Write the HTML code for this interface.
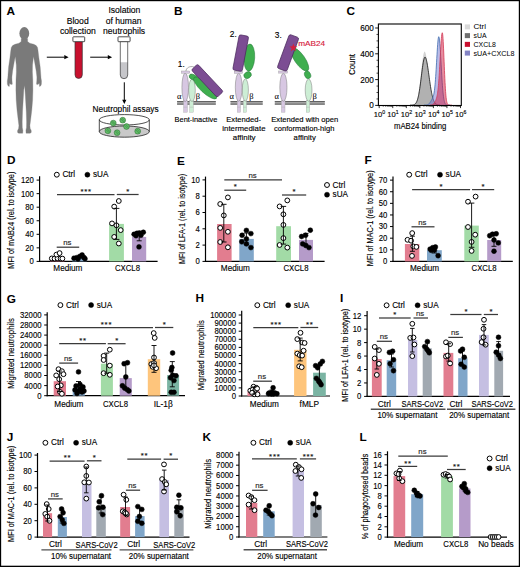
<!DOCTYPE html>
<html><head><meta charset="utf-8"><style>
html,body{margin:0;padding:0;background:#fff;}
svg{display:block;font-family:"Liberation Sans", sans-serif;}

</style></head><body>
<svg width="520" height="567" viewBox="0 0 520 567" font-family="Liberation Sans, sans-serif">
<rect width="520" height="567" fill="#fff"/>
<text x="6.6" y="15" font-size="11.8" font-weight="bold">A</text>
<path d="M21.2,38.5 L21.2,41.6 L19,43.2 L15,44.3 L12.6,45.6 L11.3,47.4 L10.8,50.5 L9.9,58 L8.6,67 L8,75 L7.8,78 L7.3,81 L7.4,84.2 L8.2,86 L9.3,86.4 L9.5,83.2 L11,84.6 L12.3,84.2 L12,80.5 L11.9,77 L12.6,71 L14.2,62 L15.3,56.5 L16.3,65 L16.4,72 L16,80 L15.9,90 L16.2,100 L17,110 L18.2,120 L18.9,125.5 L18.6,128.5 L17.6,130.5 L17.5,132.2 L18.5,133.2 L22.7,133.2 L22.9,130.5 L22.3,127.5 L22.2,122 L22.5,112 L23.2,100 L23.8,90 L24.4,85.5 L25,90 L25.6,100 L26.3,112 L26.6,122 L26.5,127.5 L25.9,130.5 L26.1,133.2 L30.3,133.2 L31.3,132.2 L31.2,130.5 L30.2,128.5 L29.9,125.5 L30.6,120 L31.8,110 L32.6,100 L32.9,90 L32.8,80 L32.4,72 L32.5,65 L33.5,56.5 L34.6,62 L36.2,71 L36.9,77 L36.8,80.5 L36.5,84.2 L37.8,84.6 L39.3,83.2 L39.5,86.4 L40.6,86 L41.4,84.2 L41.5,81 L41,78 L40.8,75 L40.2,67 L38.9,58 L38,50.5 L37.5,47.4 L36.2,45.6 L33.8,44.3 L29.8,43.2 L27.6,41.6 L27.6,38.5 Z" fill="#7a7a7a" stroke="#7a7a7a" stroke-width="0.3" stroke-linejoin="round"/>
<ellipse cx="24.3" cy="33.4" rx="4.9" ry="6.3" fill="#7a7a7a"/>
<line x1="46.8" y1="57.2" x2="64.8" y2="57.2" stroke="#000" stroke-width="1"/>
<path d="M68.6,57.2 L64.3,55.1 L64.3,59.3 Z" fill="#000"/>
<line x1="90.2" y1="57.2" x2="108.3" y2="57.2" stroke="#000" stroke-width="1"/>
<path d="M112.1,57.2 L107.8,55.1 L107.8,59.3 Z" fill="#000"/>
<line x1="124.3" y1="82.3" x2="124.3" y2="100.2" stroke="#000" stroke-width="1"/>
<path d="M124.3,104 L122.2,99.7 L126.4,99.7 Z" fill="#000"/>
<path d="M75,41.5 L75,74.75 Q75,78.4 78.65,78.4 Q82.3,78.4 82.3,74.75 L82.3,41.5 Z" fill="#c8102e" stroke="#333" stroke-width="0.7"/>
<rect x="72.9" y="36.8" width="11.8" height="4.9" rx="0.6" fill="#fff" stroke="#222" stroke-width="0.8"/>
<path d="M120.3,41.5 L120.3,75 Q120.3,78.7 124,78.7 Q127.7,78.7 127.7,75 L127.7,41.5 Z" fill="#fff" stroke="none"/>
<clipPath id="tc"><rect x="119.3" y="62.2" width="9.400000000000006" height="17.5"/></clipPath>
<path d="M120.3,41.5 L120.3,75 Q120.3,78.7 124,78.7 Q127.7,78.7 127.7,75 L127.7,41.5 Z" fill="#c6c6ca" clip-path="url(#tc)"/>
<path d="M120.3,41.5 L120.3,75 Q120.3,78.7 124,78.7 Q127.7,78.7 127.7,75 L127.7,41.5 Z" fill="none" stroke="#333" stroke-width="0.7"/>
<rect x="118.0" y="36.8" width="12.1" height="4.9" rx="0.6" fill="#fff" stroke="#222" stroke-width="0.8"/>
<text x="77.7" y="23.6" font-size="8.6" stroke="#000" stroke-width="0.13" text-anchor="middle">Blood</text>
<text x="77.8" y="34" font-size="8.6" stroke="#000" stroke-width="0.13" text-anchor="middle">collection</text>
<text x="124.4" y="13.2" font-size="8.6" stroke="#000" stroke-width="0.13" text-anchor="middle">Isolation</text>
<text x="123.6" y="23.6" font-size="8.6" stroke="#000" stroke-width="0.13" text-anchor="middle">of human</text>
<text x="124.1" y="34" font-size="8.6" stroke="#000" stroke-width="0.13" text-anchor="middle">neutrophils</text>
<text x="125.6" y="111.6" font-size="8.4" stroke="#000" stroke-width="0.13" text-anchor="middle" textLength="66" lengthAdjust="spacingAndGlyphs">Neutrophil assays</text>
<ellipse cx="124.3" cy="131.6" rx="25" ry="5.6" fill="#c9c9c9" stroke="#222" stroke-width="0.8"/>
<line x1="99.3" y1="119.8" x2="99.3" y2="131.6" stroke="#222" stroke-width="0.8"/>
<line x1="149.3" y1="119.8" x2="149.3" y2="131.6" stroke="#222" stroke-width="0.8"/>
<ellipse cx="124.3" cy="119.8" rx="25" ry="5.2" fill="none" stroke="#222" stroke-width="0.8"/>
<circle cx="113.3" cy="123.1" r="2.9" fill="#62bd68" stroke="#2f6e36" stroke-width="0.55"/>
<path d="M111.39999999999999,121.89999999999999 L114.5,125.0 M112.3,120.89999999999999 L115.39999999999999,124.0" stroke="#2e7a38" stroke-width="0.55"/>
<circle cx="122.7" cy="120.2" r="2.9" fill="#62bd68" stroke="#2f6e36" stroke-width="0.55"/>
<path d="M120.8,119.0 L123.9,122.10000000000001 M121.7,118.0 L124.8,121.10000000000001" stroke="#2e7a38" stroke-width="0.55"/>
<circle cx="126.5" cy="126.5" r="2.9" fill="#62bd68" stroke="#2f6e36" stroke-width="0.55"/>
<path d="M124.6,125.3 L127.7,128.4 M125.5,124.3 L128.6,127.4" stroke="#2e7a38" stroke-width="0.55"/>
<circle cx="107.9" cy="130.8" r="2.9" fill="#62bd68" stroke="#2f6e36" stroke-width="0.55"/>
<path d="M106.0,129.60000000000002 L109.10000000000001,132.70000000000002 M106.9,128.60000000000002 L110.0,131.70000000000002" stroke="#2e7a38" stroke-width="0.55"/>
<circle cx="117.1" cy="132.7" r="2.9" fill="#62bd68" stroke="#2f6e36" stroke-width="0.55"/>
<path d="M115.19999999999999,131.5 L118.3,134.6 M116.1,130.5 L119.19999999999999,133.6" stroke="#2e7a38" stroke-width="0.55"/>
<circle cx="137.7" cy="131.2" r="2.9" fill="#62bd68" stroke="#2f6e36" stroke-width="0.55"/>
<path d="M135.79999999999998,130.0 L138.89999999999998,133.1 M136.7,129.0 L139.79999999999998,132.1" stroke="#2e7a38" stroke-width="0.55"/>
<text x="174.1" y="15.2" font-size="11.8" font-weight="bold">B</text>
<rect x="177.1" y="101.1" width="38.7" height="3.5" fill="#a8a8a8"/>
<line x1="177.1" y1="101.55" x2="215.8" y2="101.55" stroke="#555" stroke-width="0.9"/>
<line x1="177.1" y1="104.15" x2="215.8" y2="104.15" stroke="#555" stroke-width="0.9"/>
<rect x="183.6" y="100.5" width="3.8" height="11.7" fill="#d7c7e2" stroke="#aaa" stroke-width="0.4"/>
<rect x="189.7" y="100.5" width="3.6" height="11.7" fill="#cdeed5" stroke="#aaa" stroke-width="0.4"/>
<line x1="183.6" y1="107.2" x2="187.4" y2="107.2" stroke="#aaa" stroke-width="0.4"/>
<line x1="189.7" y1="107.2" x2="193.3" y2="107.2" stroke="#aaa" stroke-width="0.4"/>
<ellipse cx="192" cy="90.3" rx="3.3" ry="11.2" fill="#cdeed5" stroke="#7a7a7a" stroke-width="0.5"/>
<ellipse cx="185.2" cy="87.4" rx="3.3" ry="14.3" fill="#d7c7e2" stroke="#7a7a7a" stroke-width="0.5"/>
<rect x="181.4" y="71.0" width="8.4" height="2.2" fill="#d7c7e2" stroke="#999" stroke-width="0.4"/>
<path d="M185.9,71.0 C186.4,67.6 189.8,65.9 193.8,66.8" fill="none" stroke="#666" stroke-width="0.55"/>
<ellipse cx="193.2" cy="77.2" rx="4.3" ry="2.6" fill="#3fae4f" stroke="#25793a" stroke-width="0.5" transform="rotate(25 193.2 77.2)"/>
<ellipse cx="205.2" cy="88" rx="15.3" ry="4.7" fill="#3fae4f" stroke="#25793a" stroke-width="0.5" transform="rotate(43 205.2 88)"/>
<rect x="188.5" y="76.4" width="37.6" height="8.6" rx="1.8" fill="#7c4d93" stroke="#4a2a5c" stroke-width="0.7" transform="rotate(46.8 207.3 80.7)"/>
<text x="177.8" y="67.3" font-size="8.3" stroke="#000" stroke-width="0.13">1.</text>
<text x="177" y="98.6" font-size="8.5" stroke="#000" stroke-width="0.05" style="font-family:Liberation Serif, serif">α</text>
<text x="195.8" y="98.6" font-size="8.5" stroke="#000" stroke-width="0.05" style="font-family:Liberation Serif, serif">β</text>
<rect x="230.5" y="101.1" width="32.2" height="3.5" fill="#a8a8a8"/>
<line x1="230.5" y1="101.55" x2="262.7" y2="101.55" stroke="#555" stroke-width="0.9"/>
<line x1="230.5" y1="104.15" x2="262.7" y2="104.15" stroke="#555" stroke-width="0.9"/>
<rect x="237.3" y="100.5" width="3.2" height="11.7" fill="#d7c7e2" stroke="#aaa" stroke-width="0.4"/>
<rect x="243.3" y="100.5" width="3.1" height="11.7" fill="#cdeed5" stroke="#aaa" stroke-width="0.4"/>
<line x1="237.3" y1="107.2" x2="240.5" y2="107.2" stroke="#aaa" stroke-width="0.4"/>
<line x1="243.3" y1="107.2" x2="246.4" y2="107.2" stroke="#aaa" stroke-width="0.4"/>
<ellipse cx="245.3" cy="90" rx="3.1" ry="11.1" fill="#cdeed5" stroke="#7a7a7a" stroke-width="0.5"/>
<ellipse cx="238.7" cy="87.3" rx="3.4" ry="14" fill="#d7c7e2" stroke="#7a7a7a" stroke-width="0.5"/>
<rect x="234.2" y="71.2" width="8.4" height="2.2" fill="#d7c7e2" stroke="#999" stroke-width="0.4"/>
<ellipse cx="247.6" cy="75.1" rx="3.9" ry="3.2" fill="#3fae4f" stroke="#25793a" stroke-width="0.5" transform="rotate(-35 247.6 75.1)"/>
<ellipse cx="249.3" cy="57.6" rx="5.4" ry="13.6" fill="#3fae4f" stroke="#25793a" stroke-width="0.5" transform="rotate(3 249.3 57.6)"/>
<rect x="235.9" y="35.2" width="9.6" height="35.8" rx="1.8" fill="#7c4d93" stroke="#4a2a5c" stroke-width="0.7" transform="rotate(10.7 240.7 53.1)"/>
<text x="229.8" y="37.4" font-size="8.3" stroke="#000" stroke-width="0.13">2.</text>
<text x="229.6" y="98.9" font-size="8.5" stroke="#000" stroke-width="0.05" style="font-family:Liberation Serif, serif">α</text>
<text x="249.2" y="98.9" font-size="8.5" stroke="#000" stroke-width="0.05" style="font-family:Liberation Serif, serif">β</text>
<rect x="274.8" y="101.1" width="50" height="3.5" fill="#a8a8a8"/>
<line x1="274.8" y1="101.55" x2="324.8" y2="101.55" stroke="#555" stroke-width="0.9"/>
<line x1="274.8" y1="104.15" x2="324.8" y2="104.15" stroke="#555" stroke-width="0.9"/>
<rect x="281.4" y="100.5" width="3.6" height="11.7" fill="#d7c7e2" stroke="#aaa" stroke-width="0.4"/>
<rect x="306.2" y="100.5" width="3.5" height="11.7" fill="#cdeed5" stroke="#aaa" stroke-width="0.4"/>
<line x1="281.4" y1="107.2" x2="285" y2="107.2" stroke="#aaa" stroke-width="0.4"/>
<line x1="306.2" y1="107.2" x2="309.7" y2="107.2" stroke="#aaa" stroke-width="0.4"/>
<ellipse cx="308.6" cy="90.1" rx="3.4" ry="11.1" fill="#cdeed5" stroke="#7a7a7a" stroke-width="0.5"/>
<ellipse cx="283.4" cy="87.3" rx="3.6" ry="14" fill="#d7c7e2" stroke="#7a7a7a" stroke-width="0.5"/>
<rect x="278.7" y="71.0" width="8.8" height="2.1" fill="#d7c7e2" stroke="#999" stroke-width="0.4"/>
<ellipse cx="307.6" cy="74.8" rx="3" ry="3.9" fill="#3fae4f" stroke="#25793a" stroke-width="0.5" transform="rotate(-22 307.6 74.8)"/>
<ellipse cx="299.8" cy="59.4" rx="5.1" ry="13.8" fill="#3fae4f" stroke="#25793a" stroke-width="0.5" transform="rotate(-35 299.8 59.4)"/>
<rect x="282.95" y="34.95" width="10.2" height="35.9" rx="1.8" fill="#7c4d93" stroke="#4a2a5c" stroke-width="0.7" transform="rotate(20.2 288.05 52.9)"/>
<path d="M293.40,43.60 L294.46,46.34 L297.39,46.50 L295.11,48.36 L295.87,51.20 L293.40,49.60 L290.93,51.20 L291.69,48.36 L289.41,46.50 L292.34,46.34 Z" fill="#d5203c"/>
<text x="298.2" y="45.9" font-size="7.6" stroke="#d5203c" stroke-width="0.13" fill="#d5203c" textLength="27" lengthAdjust="spacingAndGlyphs">mAB24</text>
<text x="274.8" y="37.7" font-size="8.3" stroke="#000" stroke-width="0.13">3.</text>
<text x="274.6" y="98.9" font-size="8.5" stroke="#000" stroke-width="0.05" style="font-family:Liberation Serif, serif">α</text>
<text x="312.6" y="98.9" font-size="8.5" stroke="#000" stroke-width="0.05" style="font-family:Liberation Serif, serif">β</text>
<text x="196" y="122.3" font-size="7.9" stroke="#000" stroke-width="0.13" text-anchor="middle" textLength="42.8" lengthAdjust="spacingAndGlyphs">Bent-inactive</text>
<text x="243.6" y="122.3" font-size="7.9" stroke="#000" stroke-width="0.13" text-anchor="middle" textLength="34.7" lengthAdjust="spacingAndGlyphs">Extended-</text>
<text x="243.9" y="131" font-size="7.9" stroke="#000" stroke-width="0.13" text-anchor="middle" textLength="43.2" lengthAdjust="spacingAndGlyphs">intermediate</text>
<text x="244.2" y="139.6" font-size="7.9" stroke="#000" stroke-width="0.13" text-anchor="middle" textLength="22.8" lengthAdjust="spacingAndGlyphs">affinity</text>
<text x="304.8" y="122.3" font-size="7.9" stroke="#000" stroke-width="0.13" text-anchor="middle" textLength="67.1" lengthAdjust="spacingAndGlyphs">Extended with open</text>
<text x="304.2" y="131" font-size="7.9" stroke="#000" stroke-width="0.13" text-anchor="middle" textLength="60.4" lengthAdjust="spacingAndGlyphs">conformation-high</text>
<text x="304.7" y="139.6" font-size="7.9" stroke="#000" stroke-width="0.13" text-anchor="middle" textLength="22.2" lengthAdjust="spacingAndGlyphs">affinity</text>
<text x="346.4" y="15" font-size="11.8" font-weight="bold">C</text>
<path d="M410.00,105.10 L410.00,105.09 L410.25,105.09 L410.50,105.08 L410.75,105.08 L411.00,105.07 L411.25,105.06 L411.50,105.05 L411.75,105.04 L412.00,105.02 L412.25,104.99 L412.50,104.96 L412.75,104.93 L413.00,104.88 L413.25,104.82 L413.50,104.75 L413.75,104.66 L414.00,104.55 L414.25,104.42 L414.50,104.27 L414.75,104.08 L415.00,103.86 L415.25,103.59 L415.50,103.28 L415.75,102.91 L416.00,102.49 L416.25,101.99 L416.50,101.42 L416.75,100.77 L417.00,100.04 L417.25,99.20 L417.50,98.26 L417.75,97.22 L418.00,96.06 L418.25,94.78 L418.50,93.38 L418.75,91.87 L419.00,90.23 L419.25,88.47 L419.50,86.59 L419.75,84.62 L420.00,82.54 L420.25,80.39 L420.50,78.16 L420.75,75.89 L421.00,73.58 L421.25,71.26 L421.50,68.96 L421.75,66.70 L422.00,64.50 L422.25,62.40 L422.50,60.41 L422.75,58.58 L423.00,56.91 L423.25,55.44 L423.50,54.18 L423.75,53.15 L424.00,52.38 L424.25,51.87 L424.50,51.62 L424.75,51.64 L425.00,51.90 L425.25,52.38 L425.50,53.08 L425.75,53.99 L426.00,55.11 L426.25,56.41 L426.50,57.89 L426.75,59.51 L427.00,61.27 L427.25,63.15 L427.50,65.12 L427.75,67.16 L428.00,69.25 L428.25,71.37 L428.50,73.50 L428.75,75.63 L429.00,77.73 L429.25,79.80 L429.50,81.80 L429.75,83.74 L430.00,85.61 L430.25,87.39 L430.50,89.07 L430.75,90.66 L431.00,92.15 L431.25,93.53 L431.50,94.81 L431.75,95.99 L432.00,97.07 L432.25,98.05 L432.50,98.94 L432.75,99.74 L433.00,100.45 L433.25,101.09 L433.50,101.65 L433.75,102.15 L434.00,102.59 L434.25,102.97 L434.50,103.30 L434.75,103.59 L435.00,103.84 L435.25,104.05 L435.50,104.23 L435.75,104.38 L436.00,104.51 L436.25,104.61 L436.50,104.70 L436.75,104.78 L437.00,104.84 L437.25,104.89 L437.50,104.93 L437.75,104.97 L438.00,104.99 L438.25,105.02 L438.50,105.03 L438.75,105.05 L439.00,105.06 L439.25,105.07 L439.50,105.08 L439.75,105.08 L440.00,105.09 L440.00,105.10 Z" fill="#d2d2d2" fill-opacity="1.0" stroke="none"/>
<path d="M410.00,105.10 L410.00,105.09 L410.25,105.09 L410.50,105.09 L410.75,105.08 L411.00,105.08 L411.25,105.07 L411.50,105.06 L411.75,105.05 L412.00,105.03 L412.25,105.01 L412.50,104.98 L412.75,104.95 L413.00,104.91 L413.25,104.87 L413.50,104.81 L413.75,104.74 L414.00,104.65 L414.25,104.54 L414.50,104.42 L414.75,104.27 L415.00,104.09 L415.25,103.87 L415.50,103.62 L415.75,103.33 L416.00,102.99 L416.25,102.60 L416.50,102.14 L416.75,101.63 L417.00,101.04 L417.25,100.37 L417.50,99.62 L417.75,98.78 L418.00,97.85 L418.25,96.82 L418.50,95.70 L418.75,94.46 L419.00,93.13 L419.25,91.69 L419.50,90.16 L419.75,88.53 L420.00,86.80 L420.25,85.00 L420.50,83.12 L420.75,81.19 L421.00,79.21 L421.25,77.20 L421.50,75.18 L421.75,73.17 L422.00,71.18 L422.25,69.25 L422.50,67.38 L422.75,65.62 L423.00,63.96 L423.25,62.45 L423.50,61.09 L423.75,59.91 L424.00,58.92 L424.25,58.13 L424.50,57.56 L424.75,57.22 L425.00,57.10 L425.25,57.19 L425.50,57.47 L425.75,57.94 L426.00,58.58 L426.25,59.39 L426.50,60.36 L426.75,61.48 L427.00,62.74 L427.25,64.12 L427.50,65.62 L427.75,67.20 L428.00,68.87 L428.25,70.59 L428.50,72.37 L428.75,74.17 L429.00,75.99 L429.25,77.80 L429.50,79.61 L429.75,81.38 L430.00,83.12 L430.25,84.82 L430.50,86.45 L430.75,88.02 L431.00,89.52 L431.25,90.94 L431.50,92.28 L431.75,93.54 L432.00,94.72 L432.25,95.81 L432.50,96.82 L432.75,97.75 L433.00,98.60 L433.25,99.38 L433.50,100.08 L433.75,100.71 L434.00,101.28 L434.25,101.79 L434.50,102.24 L434.75,102.64 L435.00,102.99 L435.25,103.30 L435.50,103.57 L435.75,103.80 L436.00,104.01 L436.25,104.18 L436.50,104.33 L436.75,104.46 L437.00,104.57 L437.25,104.66 L437.50,104.74 L437.75,104.80 L438.00,104.86 L438.25,104.90 L438.50,104.94 L438.75,104.97 L439.00,105.00 L439.25,105.02 L439.50,105.03 L439.75,105.05 L440.00,105.06 L440.00,105.10 Z" fill="#8a8a8a" fill-opacity="0.45" stroke="none"/>
<path d="M410.00,105.09 L410.25,105.09 L410.50,105.09 L410.75,105.08 L411.00,105.08 L411.25,105.07 L411.50,105.06 L411.75,105.05 L412.00,105.03 L412.25,105.01 L412.50,104.98 L412.75,104.95 L413.00,104.91 L413.25,104.87 L413.50,104.81 L413.75,104.74 L414.00,104.65 L414.25,104.54 L414.50,104.42 L414.75,104.27 L415.00,104.09 L415.25,103.87 L415.50,103.62 L415.75,103.33 L416.00,102.99 L416.25,102.60 L416.50,102.14 L416.75,101.63 L417.00,101.04 L417.25,100.37 L417.50,99.62 L417.75,98.78 L418.00,97.85 L418.25,96.82 L418.50,95.70 L418.75,94.46 L419.00,93.13 L419.25,91.69 L419.50,90.16 L419.75,88.53 L420.00,86.80 L420.25,85.00 L420.50,83.12 L420.75,81.19 L421.00,79.21 L421.25,77.20 L421.50,75.18 L421.75,73.17 L422.00,71.18 L422.25,69.25 L422.50,67.38 L422.75,65.62 L423.00,63.96 L423.25,62.45 L423.50,61.09 L423.75,59.91 L424.00,58.92 L424.25,58.13 L424.50,57.56 L424.75,57.22 L425.00,57.10 L425.25,57.19 L425.50,57.47 L425.75,57.94 L426.00,58.58 L426.25,59.39 L426.50,60.36 L426.75,61.48 L427.00,62.74 L427.25,64.12 L427.50,65.62 L427.75,67.20 L428.00,68.87 L428.25,70.59 L428.50,72.37 L428.75,74.17 L429.00,75.99 L429.25,77.80 L429.50,79.61 L429.75,81.38 L430.00,83.12 L430.25,84.82 L430.50,86.45 L430.75,88.02 L431.00,89.52 L431.25,90.94 L431.50,92.28 L431.75,93.54 L432.00,94.72 L432.25,95.81 L432.50,96.82 L432.75,97.75 L433.00,98.60 L433.25,99.38 L433.50,100.08 L433.75,100.71 L434.00,101.28 L434.25,101.79 L434.50,102.24 L434.75,102.64 L435.00,102.99 L435.25,103.30 L435.50,103.57 L435.75,103.80 L436.00,104.01 L436.25,104.18 L436.50,104.33 L436.75,104.46 L437.00,104.57 L437.25,104.66 L437.50,104.74 L437.75,104.80 L438.00,104.86 L438.25,104.90 L438.50,104.94 L438.75,104.97 L439.00,105.00 L439.25,105.02 L439.50,105.03 L439.75,105.05 L440.00,105.06" fill="none" stroke="#111" stroke-width="0.8" stroke-linejoin="round"/>
<path d="M424.00,105.10 L424.00,105.10 L424.22,105.09 L424.43,105.09 L424.65,105.09 L424.87,105.09 L425.08,105.08 L425.30,105.07 L425.52,105.06 L425.73,105.05 L425.95,105.04 L426.17,105.02 L426.38,104.99 L426.60,104.96 L426.82,104.93 L427.03,104.88 L427.25,104.82 L427.47,104.75 L427.68,104.67 L427.90,104.58 L428.12,104.46 L428.33,104.33 L428.55,104.18 L428.77,104.01 L428.98,103.81 L429.20,103.60 L429.42,103.36 L429.63,103.10 L429.85,102.82 L430.07,102.52 L430.28,102.20 L430.50,101.86 L430.72,101.51 L430.93,101.15 L431.15,100.77 L431.37,100.39 L431.58,100.00 L431.80,99.61 L432.02,99.20 L432.23,98.78 L432.45,98.33 L432.67,97.85 L432.88,97.32 L433.10,96.73 L433.32,96.06 L433.53,95.28 L433.75,94.38 L433.97,93.31 L434.18,92.06 L434.40,90.60 L434.62,88.91 L434.83,86.96 L435.05,84.73 L435.27,82.23 L435.48,79.46 L435.70,76.42 L435.92,73.13 L436.13,69.64 L436.35,65.99 L436.57,62.24 L436.78,58.46 L437.00,54.73 L437.22,51.14 L437.43,47.77 L437.65,44.71 L437.87,42.05 L438.08,39.86 L438.30,38.21 L438.52,37.15 L438.73,36.71 L438.95,36.90 L439.17,37.69 L439.38,39.04 L439.60,40.92 L439.82,43.29 L440.03,46.10 L440.25,49.27 L440.47,52.74 L440.68,56.42 L440.90,60.24 L441.12,64.13 L441.33,68.01 L441.55,71.81 L441.77,75.49 L441.98,79.00 L442.20,82.29 L442.42,85.35 L442.63,88.14 L442.85,90.67 L443.07,92.93 L443.28,94.93 L443.50,96.67 L443.72,98.18 L443.93,99.47 L444.15,100.55 L444.37,101.46 L444.58,102.22 L444.80,102.84 L445.02,103.34 L445.23,103.74 L445.45,104.06 L445.67,104.31 L445.88,104.51 L446.10,104.66 L446.32,104.77 L446.53,104.86 L446.75,104.93 L446.97,104.98 L447.18,105.01 L447.40,105.04 L447.62,105.06 L447.83,105.07 L448.05,105.08 L448.27,105.09 L448.48,105.09 L448.70,105.09 L448.92,105.10 L449.13,105.10 L449.35,105.10 L449.57,105.10 L449.78,105.10 L450.00,105.10 L450.00,105.10 Z" fill="#7878d0" fill-opacity="0.5" stroke="none"/>
<path d="M424.00,105.10 L424.22,105.09 L424.43,105.09 L424.65,105.09 L424.87,105.09 L425.08,105.08 L425.30,105.07 L425.52,105.06 L425.73,105.05 L425.95,105.04 L426.17,105.02 L426.38,104.99 L426.60,104.96 L426.82,104.93 L427.03,104.88 L427.25,104.82 L427.47,104.75 L427.68,104.67 L427.90,104.58 L428.12,104.46 L428.33,104.33 L428.55,104.18 L428.77,104.01 L428.98,103.81 L429.20,103.60 L429.42,103.36 L429.63,103.10 L429.85,102.82 L430.07,102.52 L430.28,102.20 L430.50,101.86 L430.72,101.51 L430.93,101.15 L431.15,100.77 L431.37,100.39 L431.58,100.00 L431.80,99.61 L432.02,99.20 L432.23,98.78 L432.45,98.33 L432.67,97.85 L432.88,97.32 L433.10,96.73 L433.32,96.06 L433.53,95.28 L433.75,94.38 L433.97,93.31 L434.18,92.06 L434.40,90.60 L434.62,88.91 L434.83,86.96 L435.05,84.73 L435.27,82.23 L435.48,79.46 L435.70,76.42 L435.92,73.13 L436.13,69.64 L436.35,65.99 L436.57,62.24 L436.78,58.46 L437.00,54.73 L437.22,51.14 L437.43,47.77 L437.65,44.71 L437.87,42.05 L438.08,39.86 L438.30,38.21 L438.52,37.15 L438.73,36.71 L438.95,36.90 L439.17,37.69 L439.38,39.04 L439.60,40.92 L439.82,43.29 L440.03,46.10 L440.25,49.27 L440.47,52.74 L440.68,56.42 L440.90,60.24 L441.12,64.13 L441.33,68.01 L441.55,71.81 L441.77,75.49 L441.98,79.00 L442.20,82.29 L442.42,85.35 L442.63,88.14 L442.85,90.67 L443.07,92.93 L443.28,94.93 L443.50,96.67 L443.72,98.18 L443.93,99.47 L444.15,100.55 L444.37,101.46 L444.58,102.22 L444.80,102.84 L445.02,103.34 L445.23,103.74 L445.45,104.06 L445.67,104.31 L445.88,104.51 L446.10,104.66 L446.32,104.77 L446.53,104.86 L446.75,104.93 L446.97,104.98 L447.18,105.01 L447.40,105.04 L447.62,105.06 L447.83,105.07 L448.05,105.08 L448.27,105.09 L448.48,105.09 L448.70,105.09 L448.92,105.10 L449.13,105.10 L449.35,105.10 L449.57,105.10 L449.78,105.10 L450.00,105.10" fill="none" stroke="#3e6cae" stroke-width="0.8" stroke-linejoin="round"/>
<path d="M430.00,105.10 L430.00,105.08 L430.18,105.07 L430.37,105.06 L430.55,105.05 L430.73,105.03 L430.92,105.02 L431.10,104.99 L431.28,104.97 L431.47,104.93 L431.65,104.89 L431.83,104.84 L432.02,104.79 L432.20,104.72 L432.38,104.64 L432.57,104.55 L432.75,104.45 L432.93,104.33 L433.12,104.20 L433.30,104.04 L433.48,103.88 L433.67,103.69 L433.85,103.49 L434.03,103.26 L434.22,103.02 L434.40,102.76 L434.58,102.48 L434.77,102.18 L434.95,101.86 L435.13,101.53 L435.32,101.17 L435.50,100.78 L435.68,100.38 L435.87,99.94 L436.05,99.47 L436.23,98.95 L436.42,98.39 L436.60,97.77 L436.78,97.08 L436.97,96.32 L437.15,95.45 L437.33,94.48 L437.52,93.38 L437.70,92.14 L437.88,90.74 L438.07,89.17 L438.25,87.41 L438.43,85.46 L438.62,83.31 L438.80,80.95 L438.98,78.39 L439.17,75.63 L439.35,72.70 L439.53,69.60 L439.72,66.37 L439.90,63.03 L440.08,59.64 L440.27,56.24 L440.45,52.86 L440.63,49.58 L440.82,46.44 L441.00,43.51 L441.18,40.83 L441.37,38.46 L441.55,36.46 L441.73,34.85 L441.92,33.68 L442.10,32.98 L442.28,32.76 L442.47,33.12 L442.65,34.22 L442.83,36.00 L443.02,38.43 L443.20,41.44 L443.38,44.93 L443.57,48.82 L443.75,52.99 L443.93,57.35 L444.12,61.80 L444.30,66.24 L444.48,70.58 L444.67,74.75 L444.85,78.69 L445.03,82.36 L445.22,85.72 L445.40,88.75 L445.58,91.46 L445.77,93.83 L445.95,95.88 L446.13,97.64 L446.32,99.13 L446.50,100.37 L446.68,101.39 L446.87,102.22 L447.05,102.89 L447.23,103.42 L447.42,103.83 L447.60,104.16 L447.78,104.40 L447.97,104.59 L448.15,104.73 L448.33,104.84 L448.52,104.91 L448.70,104.97 L448.88,105.01 L449.07,105.04 L449.25,105.06 L449.43,105.07 L449.62,105.08 L449.80,105.09 L449.98,105.09 L450.17,105.09 L450.35,105.10 L450.53,105.10 L450.72,105.10 L450.90,105.10 L451.08,105.10 L451.27,105.10 L451.45,105.10 L451.63,105.10 L451.82,105.10 L452.00,105.10 L452.00,105.10 Z" fill="#d01a40" fill-opacity="0.5" stroke="none"/>
<path d="M430.00,105.08 L430.18,105.07 L430.37,105.06 L430.55,105.05 L430.73,105.03 L430.92,105.02 L431.10,104.99 L431.28,104.97 L431.47,104.93 L431.65,104.89 L431.83,104.84 L432.02,104.79 L432.20,104.72 L432.38,104.64 L432.57,104.55 L432.75,104.45 L432.93,104.33 L433.12,104.20 L433.30,104.04 L433.48,103.88 L433.67,103.69 L433.85,103.49 L434.03,103.26 L434.22,103.02 L434.40,102.76 L434.58,102.48 L434.77,102.18 L434.95,101.86 L435.13,101.53 L435.32,101.17 L435.50,100.78 L435.68,100.38 L435.87,99.94 L436.05,99.47 L436.23,98.95 L436.42,98.39 L436.60,97.77 L436.78,97.08 L436.97,96.32 L437.15,95.45 L437.33,94.48 L437.52,93.38 L437.70,92.14 L437.88,90.74 L438.07,89.17 L438.25,87.41 L438.43,85.46 L438.62,83.31 L438.80,80.95 L438.98,78.39 L439.17,75.63 L439.35,72.70 L439.53,69.60 L439.72,66.37 L439.90,63.03 L440.08,59.64 L440.27,56.24 L440.45,52.86 L440.63,49.58 L440.82,46.44 L441.00,43.51 L441.18,40.83 L441.37,38.46 L441.55,36.46 L441.73,34.85 L441.92,33.68 L442.10,32.98 L442.28,32.76 L442.47,33.12 L442.65,34.22 L442.83,36.00 L443.02,38.43 L443.20,41.44 L443.38,44.93 L443.57,48.82 L443.75,52.99 L443.93,57.35 L444.12,61.80 L444.30,66.24 L444.48,70.58 L444.67,74.75 L444.85,78.69 L445.03,82.36 L445.22,85.72 L445.40,88.75 L445.58,91.46 L445.77,93.83 L445.95,95.88 L446.13,97.64 L446.32,99.13 L446.50,100.37 L446.68,101.39 L446.87,102.22 L447.05,102.89 L447.23,103.42 L447.42,103.83 L447.60,104.16 L447.78,104.40 L447.97,104.59 L448.15,104.73 L448.33,104.84 L448.52,104.91 L448.70,104.97 L448.88,105.01 L449.07,105.04 L449.25,105.06 L449.43,105.07 L449.62,105.08 L449.80,105.09 L449.98,105.09 L450.17,105.09 L450.35,105.10 L450.53,105.10 L450.72,105.10 L450.90,105.10 L451.08,105.10 L451.27,105.10 L451.45,105.10 L451.63,105.10 L451.82,105.10 L452.00,105.10" fill="none" stroke="#d33a55" stroke-width="0.8" stroke-linejoin="round"/>
<rect x="378.4" y="24.0" width="82.90000000000003" height="81.5" fill="none" stroke="#000" stroke-width="1.1"/>
<line x1="375.2" y1="105.4" x2="378.4" y2="105.4" stroke="#000" stroke-width="0.9"/>
<text x="373.8" y="108.3" font-size="8.2" stroke="#000" stroke-width="0.13" text-anchor="end">0</text>
<line x1="376.5" y1="98.95" x2="378.4" y2="98.95" stroke="#000" stroke-width="0.7"/>
<line x1="376.5" y1="92.5" x2="378.4" y2="92.5" stroke="#000" stroke-width="0.7"/>
<line x1="376.5" y1="86.05" x2="378.4" y2="86.05" stroke="#000" stroke-width="0.7"/>
<line x1="375.2" y1="79.6" x2="378.4" y2="79.6" stroke="#000" stroke-width="0.9"/>
<text x="373.8" y="82.5" font-size="8.2" stroke="#000" stroke-width="0.13" text-anchor="end">200</text>
<line x1="376.5" y1="73.15" x2="378.4" y2="73.15" stroke="#000" stroke-width="0.7"/>
<line x1="376.5" y1="66.7" x2="378.4" y2="66.7" stroke="#000" stroke-width="0.7"/>
<line x1="376.5" y1="60.25" x2="378.4" y2="60.25" stroke="#000" stroke-width="0.7"/>
<line x1="375.2" y1="53.8" x2="378.4" y2="53.8" stroke="#000" stroke-width="0.9"/>
<text x="373.8" y="56.7" font-size="8.2" stroke="#000" stroke-width="0.13" text-anchor="end">400</text>
<line x1="376.5" y1="47.35" x2="378.4" y2="47.35" stroke="#000" stroke-width="0.7"/>
<line x1="376.5" y1="40.9" x2="378.4" y2="40.9" stroke="#000" stroke-width="0.7"/>
<line x1="376.5" y1="34.45" x2="378.4" y2="34.45" stroke="#000" stroke-width="0.7"/>
<line x1="375.2" y1="28" x2="378.4" y2="28" stroke="#000" stroke-width="0.9"/>
<text x="373.8" y="30.9" font-size="8.2" stroke="#000" stroke-width="0.13" text-anchor="end">600</text>
<text x="355.3" y="64.5" font-size="8.4" stroke="#000" stroke-width="0.13" text-anchor="middle" textLength="21" lengthAdjust="spacingAndGlyphs" transform="rotate(-90 355.3 64.5)">Count</text>
<line x1="379.2" y1="105.5" x2="379.2" y2="108.1" stroke="#000" stroke-width="0.8"/>
<text x="379.40" y="117.3" font-size="7.6" text-anchor="middle" stroke="#000" stroke-width="0.13">10<tspan font-size="5.2" dy="-3.3">0</tspan></text>
<line x1="383.28" y1="105.5" x2="383.28" y2="106.9" stroke="#000" stroke-width="0.5"/>
<line x1="385.66" y1="105.5" x2="385.66" y2="106.9" stroke="#000" stroke-width="0.5"/>
<line x1="387.36" y1="105.5" x2="387.36" y2="106.9" stroke="#000" stroke-width="0.5"/>
<line x1="388.67" y1="105.5" x2="388.67" y2="106.9" stroke="#000" stroke-width="0.5"/>
<line x1="389.74" y1="105.5" x2="389.74" y2="106.9" stroke="#000" stroke-width="0.5"/>
<line x1="390.65" y1="105.5" x2="390.65" y2="106.9" stroke="#000" stroke-width="0.5"/>
<line x1="391.44" y1="105.5" x2="391.44" y2="106.9" stroke="#000" stroke-width="0.5"/>
<line x1="392.13" y1="105.5" x2="392.13" y2="106.9" stroke="#000" stroke-width="0.5"/>
<line x1="392.75" y1="105.5" x2="392.75" y2="108.1" stroke="#000" stroke-width="0.8"/>
<text x="392.95" y="117.3" font-size="7.6" text-anchor="middle" stroke="#000" stroke-width="0.13">10<tspan font-size="5.2" dy="-3.3">1</tspan></text>
<line x1="396.83" y1="105.5" x2="396.83" y2="106.9" stroke="#000" stroke-width="0.5"/>
<line x1="399.21" y1="105.5" x2="399.21" y2="106.9" stroke="#000" stroke-width="0.5"/>
<line x1="400.91" y1="105.5" x2="400.91" y2="106.9" stroke="#000" stroke-width="0.5"/>
<line x1="402.22" y1="105.5" x2="402.22" y2="106.9" stroke="#000" stroke-width="0.5"/>
<line x1="403.29" y1="105.5" x2="403.29" y2="106.9" stroke="#000" stroke-width="0.5"/>
<line x1="404.2" y1="105.5" x2="404.2" y2="106.9" stroke="#000" stroke-width="0.5"/>
<line x1="404.99" y1="105.5" x2="404.99" y2="106.9" stroke="#000" stroke-width="0.5"/>
<line x1="405.68" y1="105.5" x2="405.68" y2="106.9" stroke="#000" stroke-width="0.5"/>
<line x1="406.3" y1="105.5" x2="406.3" y2="108.1" stroke="#000" stroke-width="0.8"/>
<text x="406.50" y="117.3" font-size="7.6" text-anchor="middle" stroke="#000" stroke-width="0.13">10<tspan font-size="5.2" dy="-3.3">2</tspan></text>
<line x1="410.38" y1="105.5" x2="410.38" y2="106.9" stroke="#000" stroke-width="0.5"/>
<line x1="412.76" y1="105.5" x2="412.76" y2="106.9" stroke="#000" stroke-width="0.5"/>
<line x1="414.46" y1="105.5" x2="414.46" y2="106.9" stroke="#000" stroke-width="0.5"/>
<line x1="415.77" y1="105.5" x2="415.77" y2="106.9" stroke="#000" stroke-width="0.5"/>
<line x1="416.84" y1="105.5" x2="416.84" y2="106.9" stroke="#000" stroke-width="0.5"/>
<line x1="417.75" y1="105.5" x2="417.75" y2="106.9" stroke="#000" stroke-width="0.5"/>
<line x1="418.54" y1="105.5" x2="418.54" y2="106.9" stroke="#000" stroke-width="0.5"/>
<line x1="419.23" y1="105.5" x2="419.23" y2="106.9" stroke="#000" stroke-width="0.5"/>
<line x1="419.85" y1="105.5" x2="419.85" y2="108.1" stroke="#000" stroke-width="0.8"/>
<text x="420.05" y="117.3" font-size="7.6" text-anchor="middle" stroke="#000" stroke-width="0.13">10<tspan font-size="5.2" dy="-3.3">3</tspan></text>
<line x1="423.93" y1="105.5" x2="423.93" y2="106.9" stroke="#000" stroke-width="0.5"/>
<line x1="426.31" y1="105.5" x2="426.31" y2="106.9" stroke="#000" stroke-width="0.5"/>
<line x1="428.01" y1="105.5" x2="428.01" y2="106.9" stroke="#000" stroke-width="0.5"/>
<line x1="429.32" y1="105.5" x2="429.32" y2="106.9" stroke="#000" stroke-width="0.5"/>
<line x1="430.39" y1="105.5" x2="430.39" y2="106.9" stroke="#000" stroke-width="0.5"/>
<line x1="431.3" y1="105.5" x2="431.3" y2="106.9" stroke="#000" stroke-width="0.5"/>
<line x1="432.09" y1="105.5" x2="432.09" y2="106.9" stroke="#000" stroke-width="0.5"/>
<line x1="432.78" y1="105.5" x2="432.78" y2="106.9" stroke="#000" stroke-width="0.5"/>
<line x1="433.4" y1="105.5" x2="433.4" y2="108.1" stroke="#000" stroke-width="0.8"/>
<text x="433.60" y="117.3" font-size="7.6" text-anchor="middle" stroke="#000" stroke-width="0.13">10<tspan font-size="5.2" dy="-3.3">4</tspan></text>
<line x1="437.48" y1="105.5" x2="437.48" y2="106.9" stroke="#000" stroke-width="0.5"/>
<line x1="439.86" y1="105.5" x2="439.86" y2="106.9" stroke="#000" stroke-width="0.5"/>
<line x1="441.56" y1="105.5" x2="441.56" y2="106.9" stroke="#000" stroke-width="0.5"/>
<line x1="442.87" y1="105.5" x2="442.87" y2="106.9" stroke="#000" stroke-width="0.5"/>
<line x1="443.94" y1="105.5" x2="443.94" y2="106.9" stroke="#000" stroke-width="0.5"/>
<line x1="444.85" y1="105.5" x2="444.85" y2="106.9" stroke="#000" stroke-width="0.5"/>
<line x1="445.64" y1="105.5" x2="445.64" y2="106.9" stroke="#000" stroke-width="0.5"/>
<line x1="446.33" y1="105.5" x2="446.33" y2="106.9" stroke="#000" stroke-width="0.5"/>
<line x1="446.95" y1="105.5" x2="446.95" y2="108.1" stroke="#000" stroke-width="0.8"/>
<text x="447.15" y="117.3" font-size="7.6" text-anchor="middle" stroke="#000" stroke-width="0.13">10<tspan font-size="5.2" dy="-3.3">5</tspan></text>
<line x1="451.03" y1="105.5" x2="451.03" y2="106.9" stroke="#000" stroke-width="0.5"/>
<line x1="453.41" y1="105.5" x2="453.41" y2="106.9" stroke="#000" stroke-width="0.5"/>
<line x1="455.11" y1="105.5" x2="455.11" y2="106.9" stroke="#000" stroke-width="0.5"/>
<line x1="456.42" y1="105.5" x2="456.42" y2="106.9" stroke="#000" stroke-width="0.5"/>
<line x1="457.49" y1="105.5" x2="457.49" y2="106.9" stroke="#000" stroke-width="0.5"/>
<line x1="458.4" y1="105.5" x2="458.4" y2="106.9" stroke="#000" stroke-width="0.5"/>
<line x1="459.19" y1="105.5" x2="459.19" y2="106.9" stroke="#000" stroke-width="0.5"/>
<line x1="459.88" y1="105.5" x2="459.88" y2="106.9" stroke="#000" stroke-width="0.5"/>
<line x1="460.5" y1="105.5" x2="460.5" y2="108.1" stroke="#000" stroke-width="0.8"/>
<text x="460.70" y="117.3" font-size="7.6" text-anchor="middle" stroke="#000" stroke-width="0.13">10<tspan font-size="5.2" dy="-3.3">6</tspan></text>
<text x="420.2" y="128.8" font-size="8.4" stroke="#000" stroke-width="0.13" text-anchor="middle" textLength="52.3" lengthAdjust="spacingAndGlyphs">mAB24 binding</text>
<rect x="464.8" y="24.4" width="5.2" height="5" fill="#d9d9d9"/>
<text x="473.5" y="29.4" font-size="7.8" stroke="#000" stroke-width="0.03" textLength="12.6" lengthAdjust="spacingAndGlyphs">Ctrl</text>
<rect x="464.8" y="33.13" width="5.2" height="5" fill="#707070"/>
<text x="473.5" y="38.13" font-size="7.8" stroke="#000" stroke-width="0.03" textLength="13" lengthAdjust="spacingAndGlyphs">sUA</text>
<rect x="464.8" y="41.86" width="5.2" height="5" fill="#c8102e"/>
<text x="473.5" y="46.86" font-size="7.8" stroke="#000" stroke-width="0.03" textLength="22.4" lengthAdjust="spacingAndGlyphs">CXCL8</text>
<rect x="464.8" y="50.59" width="5.2" height="5" fill="#8484c4"/>
<text x="473.5" y="55.59" font-size="7.8" stroke="#000" stroke-width="0.03" textLength="40.9" lengthAdjust="spacingAndGlyphs">sUA+CXCL8</text>
<text x="7" y="164.4" font-size="11.8" font-weight="bold">D</text>
<line x1="39.6" y1="176.2" x2="39.6" y2="262" stroke="#000" stroke-width="1.2"/>
<line x1="36.6" y1="261.4" x2="39.6" y2="261.4" stroke="#000" stroke-width="1"/>
<text x="33.9" y="264.3" font-size="8.3" stroke="#000" stroke-width="0.13" text-anchor="end" textLength="4.3" lengthAdjust="spacingAndGlyphs">0</text>
<line x1="36.6" y1="247.85" x2="39.6" y2="247.85" stroke="#000" stroke-width="1"/>
<text x="33.9" y="250.75" font-size="8.3" stroke="#000" stroke-width="0.13" text-anchor="end" textLength="8.6" lengthAdjust="spacingAndGlyphs">20</text>
<line x1="36.6" y1="234.3" x2="39.6" y2="234.3" stroke="#000" stroke-width="1"/>
<text x="33.9" y="237.2" font-size="8.3" stroke="#000" stroke-width="0.13" text-anchor="end" textLength="8.6" lengthAdjust="spacingAndGlyphs">40</text>
<line x1="36.6" y1="220.75" x2="39.6" y2="220.75" stroke="#000" stroke-width="1"/>
<text x="33.9" y="223.65" font-size="8.3" stroke="#000" stroke-width="0.13" text-anchor="end" textLength="8.6" lengthAdjust="spacingAndGlyphs">60</text>
<line x1="36.6" y1="207.2" x2="39.6" y2="207.2" stroke="#000" stroke-width="1"/>
<text x="33.9" y="210.1" font-size="8.3" stroke="#000" stroke-width="0.13" text-anchor="end" textLength="8.6" lengthAdjust="spacingAndGlyphs">80</text>
<line x1="36.6" y1="193.65" x2="39.6" y2="193.65" stroke="#000" stroke-width="1"/>
<text x="33.9" y="196.55" font-size="8.3" stroke="#000" stroke-width="0.13" text-anchor="end" textLength="12.9" lengthAdjust="spacingAndGlyphs">100</text>
<line x1="36.6" y1="180.1" x2="39.6" y2="180.1" stroke="#000" stroke-width="1"/>
<text x="33.9" y="183" font-size="8.3" stroke="#000" stroke-width="0.13" text-anchor="end" textLength="12.9" lengthAdjust="spacingAndGlyphs">120</text>
<line x1="39" y1="261.4" x2="157.6" y2="261.4" stroke="#000" stroke-width="1.2"/>
<text x="13.8" y="220.2" font-size="9.6" stroke="#000" stroke-width="0.13" text-anchor="middle" textLength="97" lengthAdjust="spacingAndGlyphs" transform="rotate(-90 13.8 220.2)">MFI of mAB24 (rel. to isotype)</text>
<rect x="50" y="256.8" width="14.4" height="4.6" fill="#e27d8f"/>
<rect x="72.2" y="258" width="14.4" height="3.4" fill="#80a6c9"/>
<rect x="109.1" y="223.9" width="14.8" height="37.5" fill="#a2dba6"/>
<rect x="132" y="236.9" width="14.2" height="24.5" fill="#b59bc9"/>
<circle cx="51.8" cy="258.4" r="2.4" fill="#fff" stroke="#000" stroke-width="1"/>
<circle cx="54.6" cy="258.6" r="2.4" fill="#fff" stroke="#000" stroke-width="1"/>
<circle cx="57.5" cy="258.2" r="2.4" fill="#fff" stroke="#000" stroke-width="1"/>
<circle cx="60.6" cy="258.6" r="2.4" fill="#fff" stroke="#000" stroke-width="1"/>
<circle cx="56.4" cy="254.6" r="2.4" fill="#fff" stroke="#000" stroke-width="1"/>
<circle cx="59.6" cy="253.1" r="2.4" fill="#fff" stroke="#000" stroke-width="1"/>
<circle cx="62.4" cy="258.6" r="2.4" fill="#fff" stroke="#000" stroke-width="1"/>
<circle cx="74" cy="258.2" r="2.45" fill="#000" stroke="#000" stroke-width="0.5"/>
<circle cx="76.9" cy="257.6" r="2.45" fill="#000" stroke="#000" stroke-width="0.5"/>
<circle cx="79.8" cy="256.4" r="2.45" fill="#000" stroke="#000" stroke-width="0.5"/>
<circle cx="82.1" cy="255" r="2.45" fill="#000" stroke="#000" stroke-width="0.5"/>
<circle cx="83.8" cy="257.4" r="2.45" fill="#000" stroke="#000" stroke-width="0.5"/>
<circle cx="85" cy="258.8" r="2.45" fill="#000" stroke="#000" stroke-width="0.5"/>
<circle cx="78" cy="259" r="2.45" fill="#000" stroke="#000" stroke-width="0.5"/>
<circle cx="118.8" cy="201" r="2.4" fill="#fff" stroke="#000" stroke-width="1"/>
<circle cx="114.2" cy="206.6" r="2.4" fill="#fff" stroke="#000" stroke-width="1"/>
<circle cx="112" cy="223.4" r="2.4" fill="#fff" stroke="#000" stroke-width="1"/>
<circle cx="116.4" cy="225.3" r="2.4" fill="#fff" stroke="#000" stroke-width="1"/>
<circle cx="120.7" cy="230.1" r="2.4" fill="#fff" stroke="#000" stroke-width="1"/>
<circle cx="114.2" cy="236.9" r="2.4" fill="#fff" stroke="#000" stroke-width="1"/>
<circle cx="118.8" cy="243.5" r="2.4" fill="#fff" stroke="#000" stroke-width="1"/>
<circle cx="134.1" cy="234.3" r="2.45" fill="#000" stroke="#000" stroke-width="0.5"/>
<circle cx="137" cy="233.3" r="2.45" fill="#000" stroke="#000" stroke-width="0.5"/>
<circle cx="139.4" cy="233" r="2.45" fill="#000" stroke="#000" stroke-width="0.5"/>
<circle cx="143.3" cy="232.3" r="2.45" fill="#000" stroke="#000" stroke-width="0.5"/>
<circle cx="136" cy="235.7" r="2.45" fill="#000" stroke="#000" stroke-width="0.5"/>
<circle cx="140.9" cy="235.3" r="2.45" fill="#000" stroke="#000" stroke-width="0.5"/>
<circle cx="139" cy="246.9" r="2.45" fill="#000" stroke="#000" stroke-width="0.5"/>
<line x1="56.7" y1="247.2" x2="79.2" y2="247.2" stroke="#3a3a3a" stroke-width="1.25"/>
<text x="67.35" y="244.9" font-size="7.8" stroke="#222" stroke-width="0.13" text-anchor="middle" fill="#222">ns</text>
<line x1="57" y1="194.5" x2="114.5" y2="194.5" stroke="#3a3a3a" stroke-width="1.25"/>
<text x="81.95" y="193.6" font-size="7.8" stroke="#111" stroke-width="0.13" text-anchor="middle" fill="#111">*</text>
<text x="85.75" y="193.6" font-size="7.8" stroke="#111" stroke-width="0.13" text-anchor="middle" fill="#111">*</text>
<text x="89.55" y="193.6" font-size="7.8" stroke="#111" stroke-width="0.13" text-anchor="middle" fill="#111">*</text>
<line x1="116.8" y1="194.5" x2="138.6" y2="194.5" stroke="#3a3a3a" stroke-width="1.25"/>
<text x="127.7" y="193.6" font-size="7.8" stroke="#111" stroke-width="0.13" text-anchor="middle" fill="#111">*</text>
<circle cx="56.8" cy="174.7" r="2.45" fill="#fff" stroke="#000" stroke-width="1"/>
<text x="62.4" y="177.3" font-size="8.2" stroke="#000" stroke-width="0.13">Ctrl</text>
<circle cx="87.4" cy="174.7" r="2.5" fill="#000" stroke="#000" stroke-width="0.5"/>
<text x="93" y="177.3" font-size="8.2" stroke="#000" stroke-width="0.13">sUA</text>
<text x="67.9" y="270.9" font-size="8.3" stroke="#000" stroke-width="0.13" text-anchor="middle" textLength="29.1" lengthAdjust="spacingAndGlyphs">Medium</text>
<text x="127.5" y="270.9" font-size="8.3" stroke="#000" stroke-width="0.13" text-anchor="middle" textLength="25" lengthAdjust="spacingAndGlyphs">CXCL8</text>
<text x="177" y="164.6" font-size="11.8" font-weight="bold">E</text>
<line x1="205.5" y1="176.6" x2="205.5" y2="262" stroke="#000" stroke-width="1.2"/>
<line x1="202.5" y1="261.4" x2="205.5" y2="261.4" stroke="#000" stroke-width="1"/>
<text x="199.8" y="264.3" font-size="8.3" stroke="#000" stroke-width="0.13" text-anchor="end" textLength="4.3" lengthAdjust="spacingAndGlyphs">0</text>
<line x1="202.5" y1="245.1" x2="205.5" y2="245.1" stroke="#000" stroke-width="1"/>
<text x="199.8" y="248" font-size="8.3" stroke="#000" stroke-width="0.13" text-anchor="end" textLength="4.3" lengthAdjust="spacingAndGlyphs">2</text>
<line x1="202.5" y1="228.8" x2="205.5" y2="228.8" stroke="#000" stroke-width="1"/>
<text x="199.8" y="231.7" font-size="8.3" stroke="#000" stroke-width="0.13" text-anchor="end" textLength="4.3" lengthAdjust="spacingAndGlyphs">4</text>
<line x1="202.5" y1="212.5" x2="205.5" y2="212.5" stroke="#000" stroke-width="1"/>
<text x="199.8" y="215.4" font-size="8.3" stroke="#000" stroke-width="0.13" text-anchor="end" textLength="4.3" lengthAdjust="spacingAndGlyphs">6</text>
<line x1="202.5" y1="196.2" x2="205.5" y2="196.2" stroke="#000" stroke-width="1"/>
<text x="199.8" y="199.1" font-size="8.3" stroke="#000" stroke-width="0.13" text-anchor="end" textLength="4.3" lengthAdjust="spacingAndGlyphs">8</text>
<line x1="202.5" y1="179.9" x2="205.5" y2="179.9" stroke="#000" stroke-width="1"/>
<text x="199.8" y="182.8" font-size="8.3" stroke="#000" stroke-width="0.13" text-anchor="end" textLength="8.6" lengthAdjust="spacingAndGlyphs">10</text>
<line x1="204.9" y1="261.4" x2="324.6" y2="261.4" stroke="#000" stroke-width="1.2"/>
<text x="185" y="219" font-size="9.6" stroke="#000" stroke-width="0.13" text-anchor="middle" textLength="90" lengthAdjust="spacingAndGlyphs" transform="rotate(-90 185 219)">MFI of LFA-1 (rel. to isotype)</text>
<rect x="217.1" y="224" width="14.5" height="37.4" fill="#e27d8f"/>
<rect x="239.3" y="238.9" width="14.5" height="22.5" fill="#80a6c9"/>
<rect x="276.2" y="226.2" width="14.8" height="35.2" fill="#a2dba6"/>
<rect x="299" y="239.9" width="14" height="21.5" fill="#b59bc9"/>
<circle cx="227.9" cy="197.4" r="2.4" fill="#fff" stroke="#000" stroke-width="1"/>
<circle cx="220.2" cy="204" r="2.4" fill="#fff" stroke="#000" stroke-width="1"/>
<circle cx="223.8" cy="215.4" r="2.4" fill="#fff" stroke="#000" stroke-width="1"/>
<circle cx="220.2" cy="227.9" r="2.4" fill="#fff" stroke="#000" stroke-width="1"/>
<circle cx="227.9" cy="231.8" r="2.4" fill="#fff" stroke="#000" stroke-width="1"/>
<circle cx="220.2" cy="242" r="2.4" fill="#fff" stroke="#000" stroke-width="1"/>
<circle cx="227.9" cy="247.3" r="2.4" fill="#fff" stroke="#000" stroke-width="1"/>
<circle cx="246.4" cy="230.4" r="2.45" fill="#000" stroke="#000" stroke-width="0.5"/>
<circle cx="242.1" cy="235.3" r="2.45" fill="#000" stroke="#000" stroke-width="0.5"/>
<circle cx="250.9" cy="233.6" r="2.45" fill="#000" stroke="#000" stroke-width="0.5"/>
<circle cx="246.4" cy="238.9" r="2.45" fill="#000" stroke="#000" stroke-width="0.5"/>
<circle cx="241.8" cy="241.8" r="2.45" fill="#000" stroke="#000" stroke-width="0.5"/>
<circle cx="246.4" cy="243.9" r="2.45" fill="#000" stroke="#000" stroke-width="0.5"/>
<circle cx="250.9" cy="247.6" r="2.45" fill="#000" stroke="#000" stroke-width="0.5"/>
<circle cx="287.3" cy="200.4" r="2.4" fill="#fff" stroke="#000" stroke-width="1"/>
<circle cx="279.6" cy="206.4" r="2.4" fill="#fff" stroke="#000" stroke-width="1"/>
<circle cx="283.4" cy="214.3" r="2.4" fill="#fff" stroke="#000" stroke-width="1"/>
<circle cx="283.4" cy="224.9" r="2.4" fill="#fff" stroke="#000" stroke-width="1"/>
<circle cx="283.4" cy="238.1" r="2.4" fill="#fff" stroke="#000" stroke-width="1"/>
<circle cx="279.6" cy="245" r="2.4" fill="#fff" stroke="#000" stroke-width="1"/>
<circle cx="287.3" cy="247.6" r="2.4" fill="#fff" stroke="#000" stroke-width="1"/>
<circle cx="310.3" cy="230.2" r="2.45" fill="#000" stroke="#000" stroke-width="0.5"/>
<circle cx="305.6" cy="235.3" r="2.45" fill="#000" stroke="#000" stroke-width="0.5"/>
<circle cx="301.6" cy="236.5" r="2.45" fill="#000" stroke="#000" stroke-width="0.5"/>
<circle cx="302.7" cy="243.9" r="2.45" fill="#000" stroke="#000" stroke-width="0.5"/>
<circle cx="305.8" cy="245.5" r="2.45" fill="#000" stroke="#000" stroke-width="0.5"/>
<circle cx="309" cy="247.6" r="2.45" fill="#000" stroke="#000" stroke-width="0.5"/>
<line x1="224.3" y1="190.2" x2="246.2" y2="190.2" stroke="#3a3a3a" stroke-width="1.25"/>
<text x="235.25" y="189.3" font-size="7.8" stroke="#111" stroke-width="0.13" text-anchor="middle" fill="#111">*</text>
<line x1="224.3" y1="179.9" x2="282" y2="179.9" stroke="#3a3a3a" stroke-width="1.25"/>
<text x="252.55" y="177.6" font-size="7.8" stroke="#222" stroke-width="0.13" text-anchor="middle" fill="#222">ns</text>
<line x1="282" y1="195" x2="306.2" y2="195" stroke="#3a3a3a" stroke-width="1.25"/>
<text x="294.1" y="194.1" font-size="7.8" stroke="#111" stroke-width="0.13" text-anchor="middle" fill="#111">*</text>
<circle cx="327" cy="185" r="2.45" fill="#fff" stroke="#000" stroke-width="1"/>
<text x="332.6" y="187.6" font-size="8.2" stroke="#000" stroke-width="0.13">Ctrl</text>
<circle cx="327" cy="194.7" r="2.5" fill="#000" stroke="#000" stroke-width="0.5"/>
<text x="332.6" y="197.3" font-size="8.2" stroke="#000" stroke-width="0.13">sUA</text>
<text x="235.4" y="270.9" font-size="8.3" stroke="#000" stroke-width="0.13" text-anchor="middle" textLength="29.1" lengthAdjust="spacingAndGlyphs">Medium</text>
<text x="296" y="270.9" font-size="8.3" stroke="#000" stroke-width="0.13" text-anchor="middle" textLength="25" lengthAdjust="spacingAndGlyphs">CXCL8</text>
<text x="364.6" y="164.4" font-size="11.8" font-weight="bold">F</text>
<line x1="393" y1="176.6" x2="393" y2="262" stroke="#000" stroke-width="1.2"/>
<line x1="390" y1="261.4" x2="393" y2="261.4" stroke="#000" stroke-width="1"/>
<text x="387.3" y="264.3" font-size="8.3" stroke="#000" stroke-width="0.13" text-anchor="end" textLength="4.3" lengthAdjust="spacingAndGlyphs">0</text>
<line x1="390" y1="249.79" x2="393" y2="249.79" stroke="#000" stroke-width="1"/>
<text x="387.3" y="252.69" font-size="8.3" stroke="#000" stroke-width="0.13" text-anchor="end" textLength="8.6" lengthAdjust="spacingAndGlyphs">10</text>
<line x1="390" y1="238.18" x2="393" y2="238.18" stroke="#000" stroke-width="1"/>
<text x="387.3" y="241.08" font-size="8.3" stroke="#000" stroke-width="0.13" text-anchor="end" textLength="8.6" lengthAdjust="spacingAndGlyphs">20</text>
<line x1="390" y1="226.57" x2="393" y2="226.57" stroke="#000" stroke-width="1"/>
<text x="387.3" y="229.47" font-size="8.3" stroke="#000" stroke-width="0.13" text-anchor="end" textLength="8.6" lengthAdjust="spacingAndGlyphs">30</text>
<line x1="390" y1="214.96" x2="393" y2="214.96" stroke="#000" stroke-width="1"/>
<text x="387.3" y="217.86" font-size="8.3" stroke="#000" stroke-width="0.13" text-anchor="end" textLength="8.6" lengthAdjust="spacingAndGlyphs">40</text>
<line x1="390" y1="203.35" x2="393" y2="203.35" stroke="#000" stroke-width="1"/>
<text x="387.3" y="206.25" font-size="8.3" stroke="#000" stroke-width="0.13" text-anchor="end" textLength="8.6" lengthAdjust="spacingAndGlyphs">50</text>
<line x1="390" y1="191.74" x2="393" y2="191.74" stroke="#000" stroke-width="1"/>
<text x="387.3" y="194.64" font-size="8.3" stroke="#000" stroke-width="0.13" text-anchor="end" textLength="8.6" lengthAdjust="spacingAndGlyphs">60</text>
<line x1="390" y1="180.13" x2="393" y2="180.13" stroke="#000" stroke-width="1"/>
<text x="387.3" y="183.03" font-size="8.3" stroke="#000" stroke-width="0.13" text-anchor="end" textLength="8.6" lengthAdjust="spacingAndGlyphs">70</text>
<line x1="392.4" y1="261.4" x2="512.8" y2="261.4" stroke="#000" stroke-width="1.2"/>
<text x="373.3" y="218.3" font-size="9.6" stroke="#000" stroke-width="0.13" text-anchor="middle" textLength="95.8" lengthAdjust="spacingAndGlyphs" transform="rotate(-90 373.3 218.3)">MFI of MAC-1 (rel. to isotype)</text>
<rect x="404.9" y="244" width="14.4" height="17.4" fill="#e27d8f"/>
<rect x="427" y="250.2" width="14.8" height="11.2" fill="#80a6c9"/>
<rect x="464.3" y="225.6" width="14.5" height="35.8" fill="#a2dba6"/>
<rect x="487.2" y="240" width="14" height="21.4" fill="#b59bc9"/>
<circle cx="412.2" cy="233.1" r="2.4" fill="#fff" stroke="#000" stroke-width="1"/>
<circle cx="407.5" cy="239.8" r="2.4" fill="#fff" stroke="#000" stroke-width="1"/>
<circle cx="411.1" cy="240.7" r="2.4" fill="#fff" stroke="#000" stroke-width="1"/>
<circle cx="413.3" cy="246.4" r="2.4" fill="#fff" stroke="#000" stroke-width="1"/>
<circle cx="416.4" cy="246.9" r="2.4" fill="#fff" stroke="#000" stroke-width="1"/>
<circle cx="412" cy="255.9" r="2.4" fill="#fff" stroke="#000" stroke-width="1"/>
<circle cx="430.1" cy="249.1" r="2.45" fill="#000" stroke="#000" stroke-width="0.5"/>
<circle cx="432.7" cy="247.7" r="2.45" fill="#000" stroke="#000" stroke-width="0.5"/>
<circle cx="435.4" cy="247" r="2.45" fill="#000" stroke="#000" stroke-width="0.5"/>
<circle cx="434.5" cy="250" r="2.45" fill="#000" stroke="#000" stroke-width="0.5"/>
<circle cx="438.1" cy="255.7" r="2.45" fill="#000" stroke="#000" stroke-width="0.5"/>
<circle cx="431.4" cy="250.4" r="2.45" fill="#000" stroke="#000" stroke-width="0.5"/>
<circle cx="475.6" cy="196.6" r="2.4" fill="#fff" stroke="#000" stroke-width="1"/>
<circle cx="468" cy="201.7" r="2.4" fill="#fff" stroke="#000" stroke-width="1"/>
<circle cx="468" cy="227" r="2.4" fill="#fff" stroke="#000" stroke-width="1"/>
<circle cx="475.2" cy="234.7" r="2.4" fill="#fff" stroke="#000" stroke-width="1"/>
<circle cx="471.6" cy="241.9" r="2.4" fill="#fff" stroke="#000" stroke-width="1"/>
<circle cx="471.6" cy="250.9" r="2.4" fill="#fff" stroke="#000" stroke-width="1"/>
<circle cx="489.7" cy="235.7" r="2.45" fill="#000" stroke="#000" stroke-width="0.5"/>
<circle cx="492.5" cy="234.2" r="2.45" fill="#000" stroke="#000" stroke-width="0.5"/>
<circle cx="496.2" cy="233.8" r="2.45" fill="#000" stroke="#000" stroke-width="0.5"/>
<circle cx="494" cy="240" r="2.45" fill="#000" stroke="#000" stroke-width="0.5"/>
<circle cx="498.3" cy="242.9" r="2.45" fill="#000" stroke="#000" stroke-width="0.5"/>
<circle cx="494" cy="251.2" r="2.45" fill="#000" stroke="#000" stroke-width="0.5"/>
<line x1="411.5" y1="226.8" x2="434.5" y2="226.8" stroke="#3a3a3a" stroke-width="1.25"/>
<text x="422.4" y="224.5" font-size="7.8" stroke="#222" stroke-width="0.13" text-anchor="middle" fill="#222">ns</text>
<line x1="412.1" y1="189.6" x2="470.1" y2="189.6" stroke="#3a3a3a" stroke-width="1.25"/>
<text x="441.1" y="188.7" font-size="7.8" stroke="#111" stroke-width="0.13" text-anchor="middle" fill="#111">*</text>
<line x1="472" y1="189.6" x2="494.2" y2="189.6" stroke="#3a3a3a" stroke-width="1.25"/>
<text x="483.1" y="188.7" font-size="7.8" stroke="#111" stroke-width="0.13" text-anchor="middle" fill="#111">*</text>
<circle cx="409.2" cy="174.7" r="2.45" fill="#fff" stroke="#000" stroke-width="1"/>
<text x="414.8" y="177.3" font-size="8.2" stroke="#000" stroke-width="0.13">Ctrl</text>
<circle cx="440" cy="174.7" r="2.5" fill="#000" stroke="#000" stroke-width="0.5"/>
<text x="445.6" y="177.3" font-size="8.2" stroke="#000" stroke-width="0.13">sUA</text>
<text x="424.6" y="270.9" font-size="8.3" stroke="#000" stroke-width="0.13" text-anchor="middle" textLength="29.1" lengthAdjust="spacingAndGlyphs">Medium</text>
<text x="484.1" y="270.9" font-size="8.3" stroke="#000" stroke-width="0.13" text-anchor="middle" textLength="25" lengthAdjust="spacingAndGlyphs">CXCL8</text>
<text x="6.7" y="302.5" font-size="11.8" font-weight="bold">G</text>
<line x1="47.2" y1="312.2" x2="47.2" y2="396.3" stroke="#000" stroke-width="1.2"/>
<line x1="44.2" y1="395.7" x2="47.2" y2="395.7" stroke="#000" stroke-width="1"/>
<text x="41.5" y="398.6" font-size="8.3" stroke="#000" stroke-width="0.13" text-anchor="end" textLength="4.3" lengthAdjust="spacingAndGlyphs">0</text>
<line x1="44.2" y1="385.6" x2="47.2" y2="385.6" stroke="#000" stroke-width="1"/>
<text x="41.5" y="388.5" font-size="8.3" stroke="#000" stroke-width="0.13" text-anchor="end" textLength="17.2" lengthAdjust="spacingAndGlyphs">4000</text>
<line x1="44.2" y1="375.5" x2="47.2" y2="375.5" stroke="#000" stroke-width="1"/>
<text x="41.5" y="378.4" font-size="8.3" stroke="#000" stroke-width="0.13" text-anchor="end" textLength="17.2" lengthAdjust="spacingAndGlyphs">8000</text>
<line x1="44.2" y1="365.4" x2="47.2" y2="365.4" stroke="#000" stroke-width="1"/>
<text x="41.5" y="368.3" font-size="8.3" stroke="#000" stroke-width="0.13" text-anchor="end" textLength="21.5" lengthAdjust="spacingAndGlyphs">12000</text>
<line x1="44.2" y1="355.3" x2="47.2" y2="355.3" stroke="#000" stroke-width="1"/>
<text x="41.5" y="358.2" font-size="8.3" stroke="#000" stroke-width="0.13" text-anchor="end" textLength="21.5" lengthAdjust="spacingAndGlyphs">16000</text>
<line x1="44.2" y1="345.2" x2="47.2" y2="345.2" stroke="#000" stroke-width="1"/>
<text x="41.5" y="348.1" font-size="8.3" stroke="#000" stroke-width="0.13" text-anchor="end" textLength="21.5" lengthAdjust="spacingAndGlyphs">20000</text>
<line x1="44.2" y1="335.1" x2="47.2" y2="335.1" stroke="#000" stroke-width="1"/>
<text x="41.5" y="338" font-size="8.3" stroke="#000" stroke-width="0.13" text-anchor="end" textLength="21.5" lengthAdjust="spacingAndGlyphs">24000</text>
<line x1="44.2" y1="325" x2="47.2" y2="325" stroke="#000" stroke-width="1"/>
<text x="41.5" y="327.9" font-size="8.3" stroke="#000" stroke-width="0.13" text-anchor="end" textLength="21.5" lengthAdjust="spacingAndGlyphs">28000</text>
<line x1="44.2" y1="314.9" x2="47.2" y2="314.9" stroke="#000" stroke-width="1"/>
<text x="41.5" y="317.8" font-size="8.3" stroke="#000" stroke-width="0.13" text-anchor="end" textLength="21.5" lengthAdjust="spacingAndGlyphs">32000</text>
<line x1="46.6" y1="395.7" x2="185" y2="395.7" stroke="#000" stroke-width="1.2"/>
<text x="14.1" y="353.4" font-size="9.6" stroke="#000" stroke-width="0.13" text-anchor="middle" textLength="70.5" lengthAdjust="spacingAndGlyphs" transform="rotate(-90 14.1 353.4)">Migrated neutrophils</text>
<rect x="53.7" y="381.2" width="12.3" height="14.5" fill="#e27d8f"/>
<rect x="72.7" y="388.1" width="12.1" height="7.6" fill="#80a6c9"/>
<rect x="100.9" y="363.7" width="12" height="32" fill="#a2dba6"/>
<rect x="119.7" y="378.1" width="12.1" height="17.6" fill="#b59bc9"/>
<rect x="147.8" y="359.2" width="12.4" height="36.5" fill="#fec57c"/>
<rect x="167.1" y="375.1" width="12" height="20.6" fill="#7bb4a3"/>
<circle cx="58.5" cy="369.2" r="2.4" fill="#fff" stroke="#000" stroke-width="1"/>
<circle cx="61.9" cy="371.2" r="2.4" fill="#fff" stroke="#000" stroke-width="1"/>
<circle cx="56.2" cy="375.4" r="2.4" fill="#fff" stroke="#000" stroke-width="1"/>
<circle cx="63.5" cy="374.2" r="2.4" fill="#fff" stroke="#000" stroke-width="1"/>
<circle cx="59.2" cy="379.2" r="2.4" fill="#fff" stroke="#000" stroke-width="1"/>
<circle cx="60.8" cy="385.4" r="2.4" fill="#fff" stroke="#000" stroke-width="1"/>
<circle cx="57.7" cy="386.5" r="2.4" fill="#fff" stroke="#000" stroke-width="1"/>
<circle cx="60" cy="391.9" r="2.4" fill="#fff" stroke="#000" stroke-width="1"/>
<circle cx="61.9" cy="393.8" r="2.4" fill="#fff" stroke="#000" stroke-width="1"/>
<circle cx="78.5" cy="371.9" r="2.45" fill="#000" stroke="#000" stroke-width="0.5"/>
<circle cx="76" cy="386" r="2.45" fill="#000" stroke="#000" stroke-width="0.5"/>
<circle cx="80" cy="384.5" r="2.45" fill="#000" stroke="#000" stroke-width="0.5"/>
<circle cx="83" cy="387" r="2.45" fill="#000" stroke="#000" stroke-width="0.5"/>
<circle cx="75" cy="390" r="2.45" fill="#000" stroke="#000" stroke-width="0.5"/>
<circle cx="78" cy="391" r="2.45" fill="#000" stroke="#000" stroke-width="0.5"/>
<circle cx="82" cy="392" r="2.45" fill="#000" stroke="#000" stroke-width="0.5"/>
<circle cx="77" cy="393.5" r="2.45" fill="#000" stroke="#000" stroke-width="0.5"/>
<circle cx="80.5" cy="389" r="2.45" fill="#000" stroke="#000" stroke-width="0.5"/>
<circle cx="84" cy="391" r="2.45" fill="#000" stroke="#000" stroke-width="0.5"/>
<circle cx="109.8" cy="349.7" r="2.4" fill="#fff" stroke="#000" stroke-width="1"/>
<circle cx="103.6" cy="355.9" r="2.4" fill="#fff" stroke="#000" stroke-width="1"/>
<circle cx="103.6" cy="360" r="2.4" fill="#fff" stroke="#000" stroke-width="1"/>
<circle cx="109.8" cy="365.6" r="2.4" fill="#fff" stroke="#000" stroke-width="1"/>
<circle cx="103.6" cy="373.2" r="2.4" fill="#fff" stroke="#000" stroke-width="1"/>
<circle cx="109.8" cy="374.8" r="2.4" fill="#fff" stroke="#000" stroke-width="1"/>
<circle cx="124.1" cy="363.7" r="2.45" fill="#000" stroke="#000" stroke-width="0.5"/>
<circle cx="127.5" cy="362.7" r="2.45" fill="#000" stroke="#000" stroke-width="0.5"/>
<circle cx="125.8" cy="377" r="2.45" fill="#000" stroke="#000" stroke-width="0.5"/>
<circle cx="122.4" cy="385.8" r="2.45" fill="#000" stroke="#000" stroke-width="0.5"/>
<circle cx="124.6" cy="387.9" r="2.45" fill="#000" stroke="#000" stroke-width="0.5"/>
<circle cx="127.2" cy="389.6" r="2.45" fill="#000" stroke="#000" stroke-width="0.5"/>
<circle cx="128.9" cy="391" r="2.45" fill="#000" stroke="#000" stroke-width="0.5"/>
<circle cx="153.7" cy="333.1" r="2.4" fill="#fff" stroke="#000" stroke-width="1"/>
<circle cx="154.7" cy="337.9" r="2.4" fill="#fff" stroke="#000" stroke-width="1"/>
<circle cx="154" cy="357.5" r="2.4" fill="#fff" stroke="#000" stroke-width="1"/>
<circle cx="151.3" cy="364.1" r="2.4" fill="#fff" stroke="#000" stroke-width="1"/>
<circle cx="154" cy="363" r="2.4" fill="#fff" stroke="#000" stroke-width="1"/>
<circle cx="152.6" cy="366.8" r="2.4" fill="#fff" stroke="#000" stroke-width="1"/>
<circle cx="156.1" cy="368.2" r="2.4" fill="#fff" stroke="#000" stroke-width="1"/>
<circle cx="154" cy="365.4" r="2.4" fill="#fff" stroke="#000" stroke-width="1"/>
<circle cx="172.6" cy="353" r="2.45" fill="#000" stroke="#000" stroke-width="0.5"/>
<circle cx="171.9" cy="367.5" r="2.45" fill="#000" stroke="#000" stroke-width="0.5"/>
<circle cx="171.2" cy="370.3" r="2.45" fill="#000" stroke="#000" stroke-width="0.5"/>
<circle cx="172.6" cy="375.1" r="2.45" fill="#000" stroke="#000" stroke-width="0.5"/>
<circle cx="176" cy="375.8" r="2.45" fill="#000" stroke="#000" stroke-width="0.5"/>
<circle cx="170.5" cy="377.8" r="2.45" fill="#000" stroke="#000" stroke-width="0.5"/>
<circle cx="174" cy="380.6" r="2.45" fill="#000" stroke="#000" stroke-width="0.5"/>
<circle cx="171.2" cy="392.3" r="2.45" fill="#000" stroke="#000" stroke-width="0.5"/>
<circle cx="174" cy="392.3" r="2.45" fill="#000" stroke="#000" stroke-width="0.5"/>
<line x1="59.2" y1="363.1" x2="78.1" y2="363.1" stroke="#3a3a3a" stroke-width="1.25"/>
<text x="68.05" y="360.8" font-size="7.8" stroke="#222" stroke-width="0.13" text-anchor="middle" fill="#222">ns</text>
<line x1="59.2" y1="343.7" x2="105.9" y2="343.7" stroke="#3a3a3a" stroke-width="1.25"/>
<text x="80.65" y="342.8" font-size="7.8" stroke="#111" stroke-width="0.13" text-anchor="middle" fill="#111">*</text>
<text x="84.45" y="342.8" font-size="7.8" stroke="#111" stroke-width="0.13" text-anchor="middle" fill="#111">*</text>
<line x1="107.7" y1="343.7" x2="125.6" y2="343.7" stroke="#3a3a3a" stroke-width="1.25"/>
<text x="116.65" y="342.8" font-size="7.8" stroke="#111" stroke-width="0.13" text-anchor="middle" fill="#111">*</text>
<line x1="59.2" y1="327.5" x2="153" y2="327.5" stroke="#3a3a3a" stroke-width="1.25"/>
<text x="102.3" y="326.6" font-size="7.8" stroke="#111" stroke-width="0.13" text-anchor="middle" fill="#111">*</text>
<text x="106.1" y="326.6" font-size="7.8" stroke="#111" stroke-width="0.13" text-anchor="middle" fill="#111">*</text>
<text x="109.9" y="326.6" font-size="7.8" stroke="#111" stroke-width="0.13" text-anchor="middle" fill="#111">*</text>
<line x1="155" y1="327.5" x2="173.3" y2="327.5" stroke="#3a3a3a" stroke-width="1.25"/>
<text x="164.15" y="326.6" font-size="7.8" stroke="#111" stroke-width="0.13" text-anchor="middle" fill="#111">*</text>
<circle cx="60.4" cy="305.1" r="2.45" fill="#fff" stroke="#000" stroke-width="1"/>
<text x="66" y="307.7" font-size="8.2" stroke="#000" stroke-width="0.13">Ctrl</text>
<circle cx="91.1" cy="305.1" r="2.5" fill="#000" stroke="#000" stroke-width="0.5"/>
<text x="96.7" y="307.7" font-size="8.2" stroke="#000" stroke-width="0.13">sUA</text>
<text x="68.9" y="407.4" font-size="8.3" stroke="#000" stroke-width="0.13" text-anchor="middle" textLength="29.1" lengthAdjust="spacingAndGlyphs">Medium</text>
<text x="115.5" y="407.4" font-size="8.3" stroke="#000" stroke-width="0.13" text-anchor="middle" textLength="25" lengthAdjust="spacingAndGlyphs">CXCL8</text>
<text x="163.2" y="407.4" font-size="8.3" stroke="#000" stroke-width="0.13" text-anchor="middle">IL-1β</text>
<text x="195.5" y="302.4" font-size="11.8" font-weight="bold">H</text>
<line x1="241.7" y1="310.8" x2="241.7" y2="396.6" stroke="#000" stroke-width="1.2"/>
<line x1="238.7" y1="396" x2="241.7" y2="396" stroke="#000" stroke-width="1"/>
<text x="236" y="398.9" font-size="8.3" stroke="#000" stroke-width="0.13" text-anchor="end" textLength="4.3" lengthAdjust="spacingAndGlyphs">0</text>
<line x1="238.7" y1="387.9" x2="241.7" y2="387.9" stroke="#000" stroke-width="1"/>
<text x="236" y="390.8" font-size="8.3" stroke="#000" stroke-width="0.13" text-anchor="end" textLength="21.5" lengthAdjust="spacingAndGlyphs">10000</text>
<line x1="238.7" y1="379.8" x2="241.7" y2="379.8" stroke="#000" stroke-width="1"/>
<text x="236" y="382.7" font-size="8.3" stroke="#000" stroke-width="0.13" text-anchor="end" textLength="21.5" lengthAdjust="spacingAndGlyphs">20000</text>
<line x1="238.7" y1="371.7" x2="241.7" y2="371.7" stroke="#000" stroke-width="1"/>
<text x="236" y="374.6" font-size="8.3" stroke="#000" stroke-width="0.13" text-anchor="end" textLength="21.5" lengthAdjust="spacingAndGlyphs">30000</text>
<line x1="238.7" y1="363.6" x2="241.7" y2="363.6" stroke="#000" stroke-width="1"/>
<text x="236" y="366.5" font-size="8.3" stroke="#000" stroke-width="0.13" text-anchor="end" textLength="21.5" lengthAdjust="spacingAndGlyphs">40000</text>
<line x1="238.7" y1="355.5" x2="241.7" y2="355.5" stroke="#000" stroke-width="1"/>
<text x="236" y="358.4" font-size="8.3" stroke="#000" stroke-width="0.13" text-anchor="end" textLength="21.5" lengthAdjust="spacingAndGlyphs">50000</text>
<line x1="238.7" y1="347.4" x2="241.7" y2="347.4" stroke="#000" stroke-width="1"/>
<text x="236" y="350.3" font-size="8.3" stroke="#000" stroke-width="0.13" text-anchor="end" textLength="21.5" lengthAdjust="spacingAndGlyphs">60000</text>
<line x1="238.7" y1="339.3" x2="241.7" y2="339.3" stroke="#000" stroke-width="1"/>
<text x="236" y="342.2" font-size="8.3" stroke="#000" stroke-width="0.13" text-anchor="end" textLength="21.5" lengthAdjust="spacingAndGlyphs">70000</text>
<line x1="238.7" y1="331.2" x2="241.7" y2="331.2" stroke="#000" stroke-width="1"/>
<text x="236" y="334.1" font-size="8.3" stroke="#000" stroke-width="0.13" text-anchor="end" textLength="21.5" lengthAdjust="spacingAndGlyphs">80000</text>
<line x1="238.7" y1="323.1" x2="241.7" y2="323.1" stroke="#000" stroke-width="1"/>
<text x="236" y="326" font-size="8.3" stroke="#000" stroke-width="0.13" text-anchor="end" textLength="21.5" lengthAdjust="spacingAndGlyphs">90000</text>
<line x1="238.7" y1="315" x2="241.7" y2="315" stroke="#000" stroke-width="1"/>
<text x="236" y="317.9" font-size="8.3" stroke="#000" stroke-width="0.13" text-anchor="end" textLength="25.8" lengthAdjust="spacingAndGlyphs">100000</text>
<line x1="241.1" y1="396" x2="330" y2="396" stroke="#000" stroke-width="1.2"/>
<text x="204" y="355.2" font-size="9.6" stroke="#000" stroke-width="0.13" text-anchor="middle" textLength="70.3" lengthAdjust="spacingAndGlyphs" transform="rotate(-90 204 355.2)">Migrated neutrophils</text>
<rect x="247.5" y="391.4" width="12.5" height="4.6" fill="#e27d8f"/>
<rect x="266.7" y="393.5" width="11.8" height="2.5" fill="#80a6c9"/>
<rect x="294.1" y="349.8" width="12.4" height="46.2" fill="#fec57c"/>
<rect x="313.1" y="372.7" width="12.7" height="23.3" fill="#7bb4a3"/>
<circle cx="253.5" cy="386.7" r="2.4" fill="#fff" stroke="#000" stroke-width="1"/>
<circle cx="256.4" cy="387.8" r="2.4" fill="#fff" stroke="#000" stroke-width="1"/>
<circle cx="250.3" cy="390.6" r="2.4" fill="#fff" stroke="#000" stroke-width="1"/>
<circle cx="252.8" cy="389.6" r="2.4" fill="#fff" stroke="#000" stroke-width="1"/>
<circle cx="255.3" cy="389.9" r="2.4" fill="#fff" stroke="#000" stroke-width="1"/>
<circle cx="257.1" cy="388.5" r="2.4" fill="#fff" stroke="#000" stroke-width="1"/>
<circle cx="254.3" cy="394.3" r="2.4" fill="#fff" stroke="#000" stroke-width="1"/>
<circle cx="257.5" cy="394.3" r="2.4" fill="#fff" stroke="#000" stroke-width="1"/>
<circle cx="252.1" cy="392.8" r="2.4" fill="#fff" stroke="#000" stroke-width="1"/>
<circle cx="273.1" cy="387.8" r="2.45" fill="#000" stroke="#000" stroke-width="0.5"/>
<circle cx="269.2" cy="393" r="2.45" fill="#000" stroke="#000" stroke-width="0.5"/>
<circle cx="272" cy="392.5" r="2.45" fill="#000" stroke="#000" stroke-width="0.5"/>
<circle cx="274.9" cy="393" r="2.45" fill="#000" stroke="#000" stroke-width="0.5"/>
<circle cx="277" cy="393.8" r="2.45" fill="#000" stroke="#000" stroke-width="0.5"/>
<circle cx="268.5" cy="393.8" r="2.45" fill="#000" stroke="#000" stroke-width="0.5"/>
<circle cx="271.3" cy="394" r="2.45" fill="#000" stroke="#000" stroke-width="0.5"/>
<circle cx="273.5" cy="394" r="2.45" fill="#000" stroke="#000" stroke-width="0.5"/>
<circle cx="300.5" cy="332.8" r="2.4" fill="#fff" stroke="#000" stroke-width="1"/>
<circle cx="297.3" cy="339.1" r="2.4" fill="#fff" stroke="#000" stroke-width="1"/>
<circle cx="302.1" cy="342.5" r="2.4" fill="#fff" stroke="#000" stroke-width="1"/>
<circle cx="304.6" cy="343" r="2.4" fill="#fff" stroke="#000" stroke-width="1"/>
<circle cx="303.6" cy="350.7" r="2.4" fill="#fff" stroke="#000" stroke-width="1"/>
<circle cx="297.3" cy="353.6" r="2.4" fill="#fff" stroke="#000" stroke-width="1"/>
<circle cx="299.7" cy="355.1" r="2.4" fill="#fff" stroke="#000" stroke-width="1"/>
<circle cx="302.1" cy="355.6" r="2.4" fill="#fff" stroke="#000" stroke-width="1"/>
<circle cx="299.2" cy="366.3" r="2.4" fill="#fff" stroke="#000" stroke-width="1"/>
<circle cx="301.7" cy="367.2" r="2.4" fill="#fff" stroke="#000" stroke-width="1"/>
<circle cx="322.4" cy="361.4" r="2.45" fill="#000" stroke="#000" stroke-width="0.5"/>
<circle cx="320.3" cy="364" r="2.45" fill="#000" stroke="#000" stroke-width="0.5"/>
<circle cx="315.6" cy="365.7" r="2.45" fill="#000" stroke="#000" stroke-width="0.5"/>
<circle cx="317.7" cy="367.8" r="2.45" fill="#000" stroke="#000" stroke-width="0.5"/>
<circle cx="316.4" cy="378.4" r="2.45" fill="#000" stroke="#000" stroke-width="0.5"/>
<circle cx="318.6" cy="380.9" r="2.45" fill="#000" stroke="#000" stroke-width="0.5"/>
<circle cx="319.8" cy="382.6" r="2.45" fill="#000" stroke="#000" stroke-width="0.5"/>
<circle cx="321.1" cy="384.7" r="2.45" fill="#000" stroke="#000" stroke-width="0.5"/>
<line x1="253.2" y1="381.2" x2="271.9" y2="381.2" stroke="#3a3a3a" stroke-width="1.25"/>
<text x="261.95" y="378.9" font-size="7.8" stroke="#222" stroke-width="0.13" text-anchor="middle" fill="#222">ns</text>
<line x1="253.3" y1="327.5" x2="298.3" y2="327.5" stroke="#3a3a3a" stroke-width="1.25"/>
<text x="272" y="326.6" font-size="7.8" stroke="#111" stroke-width="0.13" text-anchor="middle" fill="#111">*</text>
<text x="275.8" y="326.6" font-size="7.8" stroke="#111" stroke-width="0.13" text-anchor="middle" fill="#111">*</text>
<text x="279.6" y="326.6" font-size="7.8" stroke="#111" stroke-width="0.13" text-anchor="middle" fill="#111">*</text>
<line x1="300.4" y1="327.5" x2="318.2" y2="327.5" stroke="#3a3a3a" stroke-width="1.25"/>
<text x="307.4" y="326.6" font-size="7.8" stroke="#111" stroke-width="0.13" text-anchor="middle" fill="#111">*</text>
<text x="311.2" y="326.6" font-size="7.8" stroke="#111" stroke-width="0.13" text-anchor="middle" fill="#111">*</text>
<circle cx="257.3" cy="305.2" r="2.45" fill="#fff" stroke="#000" stroke-width="1"/>
<text x="262.9" y="307.8" font-size="8.2" stroke="#000" stroke-width="0.13">Ctrl</text>
<circle cx="288.2" cy="305.2" r="2.5" fill="#000" stroke="#000" stroke-width="0.5"/>
<text x="293.8" y="307.8" font-size="8.2" stroke="#000" stroke-width="0.13">sUA</text>
<text x="264.4" y="407" font-size="8.3" stroke="#000" stroke-width="0.13" text-anchor="middle" textLength="29.1" lengthAdjust="spacingAndGlyphs">Medium</text>
<text x="309.3" y="407" font-size="8.3" stroke="#000" stroke-width="0.13" text-anchor="middle">fMLP</text>
<text x="339.9" y="302.4" font-size="11.8" font-weight="bold">I</text>
<line x1="367.1" y1="311" x2="367.1" y2="397" stroke="#000" stroke-width="1.2"/>
<line x1="364.1" y1="396.4" x2="367.1" y2="396.4" stroke="#000" stroke-width="1"/>
<text x="361.4" y="399.3" font-size="8.3" stroke="#000" stroke-width="0.13" text-anchor="end" textLength="4.3" lengthAdjust="spacingAndGlyphs">0</text>
<line x1="364.1" y1="382.95" x2="367.1" y2="382.95" stroke="#000" stroke-width="1"/>
<text x="361.4" y="385.85" font-size="8.3" stroke="#000" stroke-width="0.13" text-anchor="end" textLength="4.3" lengthAdjust="spacingAndGlyphs">2</text>
<line x1="364.1" y1="369.5" x2="367.1" y2="369.5" stroke="#000" stroke-width="1"/>
<text x="361.4" y="372.4" font-size="8.3" stroke="#000" stroke-width="0.13" text-anchor="end" textLength="4.3" lengthAdjust="spacingAndGlyphs">4</text>
<line x1="364.1" y1="356.05" x2="367.1" y2="356.05" stroke="#000" stroke-width="1"/>
<text x="361.4" y="358.95" font-size="8.3" stroke="#000" stroke-width="0.13" text-anchor="end" textLength="4.3" lengthAdjust="spacingAndGlyphs">6</text>
<line x1="364.1" y1="342.6" x2="367.1" y2="342.6" stroke="#000" stroke-width="1"/>
<text x="361.4" y="345.5" font-size="8.3" stroke="#000" stroke-width="0.13" text-anchor="end" textLength="4.3" lengthAdjust="spacingAndGlyphs">8</text>
<line x1="364.1" y1="329.15" x2="367.1" y2="329.15" stroke="#000" stroke-width="1"/>
<text x="361.4" y="332.05" font-size="8.3" stroke="#000" stroke-width="0.13" text-anchor="end" textLength="8.6" lengthAdjust="spacingAndGlyphs">10</text>
<line x1="364.1" y1="315.7" x2="367.1" y2="315.7" stroke="#000" stroke-width="1"/>
<text x="361.4" y="318.6" font-size="8.3" stroke="#000" stroke-width="0.13" text-anchor="end" textLength="8.6" lengthAdjust="spacingAndGlyphs">12</text>
<line x1="366.5" y1="396.4" x2="510" y2="396.4" stroke="#000" stroke-width="1.2"/>
<text x="348.2" y="355.2" font-size="9.6" stroke="#000" stroke-width="0.13" text-anchor="middle" textLength="93" lengthAdjust="spacingAndGlyphs" transform="rotate(-90 348.2 355.2)">MFI of LFA-1 (rel. to isotype)</text>
<rect x="371.9" y="359" width="9.8" height="37.4" fill="#e27d8f"/>
<rect x="386.7" y="360.2" width="9.5" height="36.2" fill="#80a6c9"/>
<rect x="408" y="340" width="9.3" height="56.4" fill="#c5bfe2"/>
<rect x="422.7" y="348.3" width="9.1" height="48.1" fill="#a1a9b1"/>
<rect x="443.5" y="352.9" width="9.8" height="43.5" fill="#e27d8f"/>
<rect x="458.2" y="358.2" width="9.3" height="38.2" fill="#80a6c9"/>
<rect x="479" y="334.9" width="9.8" height="61.5" fill="#c5bfe2"/>
<rect x="494.3" y="350.8" width="8.8" height="45.6" fill="#a1a9b1"/>
<circle cx="374.7" cy="346.9" r="2.4" fill="#fff" stroke="#000" stroke-width="1"/>
<circle cx="378.9" cy="350.1" r="2.4" fill="#fff" stroke="#000" stroke-width="1"/>
<circle cx="374.7" cy="358.5" r="2.4" fill="#fff" stroke="#000" stroke-width="1"/>
<circle cx="378.9" cy="363.8" r="2.4" fill="#fff" stroke="#000" stroke-width="1"/>
<circle cx="376.8" cy="374.9" r="2.4" fill="#fff" stroke="#000" stroke-width="1"/>
<circle cx="389.4" cy="352.4" r="2.45" fill="#000" stroke="#000" stroke-width="0.5"/>
<circle cx="392.6" cy="351.2" r="2.45" fill="#000" stroke="#000" stroke-width="0.5"/>
<circle cx="393.5" cy="359.7" r="2.45" fill="#000" stroke="#000" stroke-width="0.5"/>
<circle cx="390.1" cy="363.8" r="2.45" fill="#000" stroke="#000" stroke-width="0.5"/>
<circle cx="393.5" cy="370.7" r="2.45" fill="#000" stroke="#000" stroke-width="0.5"/>
<circle cx="412.3" cy="323.8" r="2.4" fill="#fff" stroke="#000" stroke-width="1"/>
<circle cx="410.2" cy="337.9" r="2.4" fill="#fff" stroke="#000" stroke-width="1"/>
<circle cx="413.5" cy="337.5" r="2.4" fill="#fff" stroke="#000" stroke-width="1"/>
<circle cx="414.4" cy="344.5" r="2.4" fill="#fff" stroke="#000" stroke-width="1"/>
<circle cx="412.3" cy="356.1" r="2.4" fill="#fff" stroke="#000" stroke-width="1"/>
<circle cx="427.4" cy="341.6" r="2.45" fill="#000" stroke="#000" stroke-width="0.5"/>
<circle cx="424.7" cy="346.6" r="2.45" fill="#000" stroke="#000" stroke-width="0.5"/>
<circle cx="426.8" cy="349.1" r="2.45" fill="#000" stroke="#000" stroke-width="0.5"/>
<circle cx="428.5" cy="351.2" r="2.45" fill="#000" stroke="#000" stroke-width="0.5"/>
<circle cx="429.3" cy="352.8" r="2.45" fill="#000" stroke="#000" stroke-width="0.5"/>
<circle cx="446" cy="342.3" r="2.4" fill="#fff" stroke="#000" stroke-width="1"/>
<circle cx="450.1" cy="344.1" r="2.4" fill="#fff" stroke="#000" stroke-width="1"/>
<circle cx="446" cy="356.5" r="2.4" fill="#fff" stroke="#000" stroke-width="1"/>
<circle cx="447.8" cy="355.6" r="2.4" fill="#fff" stroke="#000" stroke-width="1"/>
<circle cx="450.1" cy="363.4" r="2.4" fill="#fff" stroke="#000" stroke-width="1"/>
<circle cx="462.5" cy="349.2" r="2.45" fill="#000" stroke="#000" stroke-width="0.5"/>
<circle cx="460.6" cy="351" r="2.45" fill="#000" stroke="#000" stroke-width="0.5"/>
<circle cx="464.3" cy="357.3" r="2.45" fill="#000" stroke="#000" stroke-width="0.5"/>
<circle cx="461.1" cy="364.3" r="2.45" fill="#000" stroke="#000" stroke-width="0.5"/>
<circle cx="464.3" cy="367.1" r="2.45" fill="#000" stroke="#000" stroke-width="0.5"/>
<circle cx="484" cy="319.8" r="2.4" fill="#fff" stroke="#000" stroke-width="1"/>
<circle cx="483.5" cy="328.8" r="2.4" fill="#fff" stroke="#000" stroke-width="1"/>
<circle cx="483.5" cy="337.3" r="2.4" fill="#fff" stroke="#000" stroke-width="1"/>
<circle cx="481.6" cy="342.1" r="2.4" fill="#fff" stroke="#000" stroke-width="1"/>
<circle cx="485.6" cy="344.7" r="2.4" fill="#fff" stroke="#000" stroke-width="1"/>
<circle cx="498.5" cy="337.3" r="2.45" fill="#000" stroke="#000" stroke-width="0.5"/>
<circle cx="498.5" cy="345.8" r="2.45" fill="#000" stroke="#000" stroke-width="0.5"/>
<circle cx="496.2" cy="352.2" r="2.45" fill="#000" stroke="#000" stroke-width="0.5"/>
<circle cx="498.8" cy="355.3" r="2.45" fill="#000" stroke="#000" stroke-width="0.5"/>
<circle cx="500.4" cy="358.5" r="2.45" fill="#000" stroke="#000" stroke-width="0.5"/>
<line x1="376.8" y1="341.3" x2="392" y2="341.3" stroke="#3a3a3a" stroke-width="1.25"/>
<text x="383.8" y="339" font-size="7.8" stroke="#222" stroke-width="0.13" text-anchor="middle" fill="#222">ns</text>
<line x1="379" y1="318" x2="410.7" y2="318" stroke="#3a3a3a" stroke-width="1.25"/>
<text x="394.85" y="317.1" font-size="7.8" stroke="#111" stroke-width="0.13" text-anchor="middle" fill="#111">*</text>
<line x1="413.5" y1="318" x2="428" y2="318" stroke="#3a3a3a" stroke-width="1.25"/>
<text x="420.15" y="315.7" font-size="7.8" stroke="#222" stroke-width="0.13" text-anchor="middle" fill="#222">ns</text>
<line x1="448.3" y1="337.4" x2="462.9" y2="337.4" stroke="#3a3a3a" stroke-width="1.25"/>
<text x="455" y="335.1" font-size="7.8" stroke="#222" stroke-width="0.13" text-anchor="middle" fill="#222">ns</text>
<line x1="450.3" y1="314.5" x2="481.5" y2="314.5" stroke="#3a3a3a" stroke-width="1.25"/>
<text x="465.9" y="313.6" font-size="7.8" stroke="#111" stroke-width="0.13" text-anchor="middle" fill="#111">*</text>
<line x1="483.8" y1="314.5" x2="498" y2="314.5" stroke="#3a3a3a" stroke-width="1.25"/>
<text x="490.9" y="313.6" font-size="7.8" stroke="#111" stroke-width="0.13" text-anchor="middle" fill="#111">*</text>
<circle cx="386.6" cy="305.3" r="2.45" fill="#fff" stroke="#000" stroke-width="1"/>
<text x="392.2" y="307.9" font-size="8.2" stroke="#000" stroke-width="0.13">Ctrl</text>
<circle cx="417.6" cy="305.3" r="2.5" fill="#000" stroke="#000" stroke-width="0.5"/>
<text x="423.2" y="307.9" font-size="8.2" stroke="#000" stroke-width="0.13">sUA</text>
<text x="384.3" y="406.6" font-size="8.3" stroke="#000" stroke-width="0.13" text-anchor="middle">Ctrl</text>
<text x="422.3" y="406.5" font-size="8.3" stroke="#000" stroke-width="0.13" text-anchor="middle" textLength="41.5" lengthAdjust="spacingAndGlyphs">SARS-CoV2</text>
<text x="456" y="406.5" font-size="8.3" stroke="#000" stroke-width="0.13" text-anchor="middle">Ctrl</text>
<text x="492.2" y="406.5" font-size="8.3" stroke="#000" stroke-width="0.13" text-anchor="middle" textLength="41.6" lengthAdjust="spacingAndGlyphs">SARS-CoV2</text>
<line x1="370.8" y1="409.2" x2="445.5" y2="409.2" stroke="#505050" stroke-width="1.35"/>
<line x1="447" y1="409.2" x2="515.4" y2="409.2" stroke="#505050" stroke-width="1.35"/>
<text x="407.4" y="418.2" font-size="8.3" stroke="#000" stroke-width="0.13" text-anchor="middle" textLength="60" lengthAdjust="spacingAndGlyphs">10% supernatant</text>
<text x="479.2" y="418.2" font-size="8.3" stroke="#000" stroke-width="0.13" text-anchor="middle" textLength="60" lengthAdjust="spacingAndGlyphs">20% supernatant</text>
<text x="6.7" y="440.8" font-size="11.8" font-weight="bold">J</text>
<line x1="37.5" y1="453" x2="37.5" y2="537.7" stroke="#000" stroke-width="1.2"/>
<line x1="34.5" y1="537.1" x2="37.5" y2="537.1" stroke="#000" stroke-width="1"/>
<text x="31.8" y="540" font-size="8.3" stroke="#000" stroke-width="0.13" text-anchor="end" textLength="4.3" lengthAdjust="spacingAndGlyphs">0</text>
<line x1="34.5" y1="520.7" x2="37.5" y2="520.7" stroke="#000" stroke-width="1"/>
<text x="31.8" y="523.61" font-size="8.3" stroke="#000" stroke-width="0.13" text-anchor="end" textLength="8.6" lengthAdjust="spacingAndGlyphs">20</text>
<line x1="34.5" y1="504.3" x2="37.5" y2="504.3" stroke="#000" stroke-width="1"/>
<text x="31.8" y="507.2" font-size="8.3" stroke="#000" stroke-width="0.13" text-anchor="end" textLength="8.6" lengthAdjust="spacingAndGlyphs">40</text>
<line x1="34.5" y1="487.9" x2="37.5" y2="487.9" stroke="#000" stroke-width="1"/>
<text x="31.8" y="490.81" font-size="8.3" stroke="#000" stroke-width="0.13" text-anchor="end" textLength="8.6" lengthAdjust="spacingAndGlyphs">60</text>
<line x1="34.5" y1="471.5" x2="37.5" y2="471.5" stroke="#000" stroke-width="1"/>
<text x="31.8" y="474.4" font-size="8.3" stroke="#000" stroke-width="0.13" text-anchor="end" textLength="8.6" lengthAdjust="spacingAndGlyphs">80</text>
<line x1="34.5" y1="455.1" x2="37.5" y2="455.1" stroke="#000" stroke-width="1"/>
<text x="31.8" y="458" font-size="8.3" stroke="#000" stroke-width="0.13" text-anchor="end" textLength="12.9" lengthAdjust="spacingAndGlyphs">100</text>
<line x1="36.9" y1="537.1" x2="189.5" y2="537.1" stroke="#000" stroke-width="1.2"/>
<text x="14" y="493.9" font-size="9.6" stroke="#000" stroke-width="0.13" text-anchor="middle" textLength="96.1" lengthAdjust="spacingAndGlyphs" transform="rotate(-90 14 493.9)">MFI of MAC-1 (rel. to isotype)</text>
<rect x="43" y="513.2" width="9.1" height="23.9" fill="#e27d8f"/>
<rect x="57.8" y="517" width="9.1" height="20.1" fill="#80a6c9"/>
<rect x="82" y="484.2" width="9.5" height="52.9" fill="#c5bfe2"/>
<rect x="96.3" y="507.2" width="9.5" height="29.9" fill="#a1a9b1"/>
<rect x="120.2" y="507" width="9.9" height="30.1" fill="#e27d8f"/>
<rect x="135.1" y="516.1" width="9.5" height="21" fill="#80a6c9"/>
<rect x="159.4" y="480" width="9.6" height="57.1" fill="#c5bfe2"/>
<rect x="174.3" y="506.6" width="9.4" height="30.5" fill="#a1a9b1"/>
<circle cx="46.7" cy="504.1" r="2.4" fill="#fff" stroke="#000" stroke-width="1"/>
<circle cx="48.7" cy="509" r="2.4" fill="#fff" stroke="#000" stroke-width="1"/>
<circle cx="45.3" cy="513.9" r="2.4" fill="#fff" stroke="#000" stroke-width="1"/>
<circle cx="47.2" cy="516.6" r="2.4" fill="#fff" stroke="#000" stroke-width="1"/>
<circle cx="49.5" cy="520.8" r="2.4" fill="#fff" stroke="#000" stroke-width="1"/>
<circle cx="61.6" cy="509" r="2.45" fill="#000" stroke="#000" stroke-width="0.5"/>
<circle cx="63.1" cy="512.8" r="2.45" fill="#000" stroke="#000" stroke-width="0.5"/>
<circle cx="60.1" cy="516.6" r="2.45" fill="#000" stroke="#000" stroke-width="0.5"/>
<circle cx="62.3" cy="520" r="2.45" fill="#000" stroke="#000" stroke-width="0.5"/>
<circle cx="63.9" cy="523.4" r="2.45" fill="#000" stroke="#000" stroke-width="0.5"/>
<circle cx="86.3" cy="466.5" r="2.4" fill="#fff" stroke="#000" stroke-width="1"/>
<circle cx="86.3" cy="475.9" r="2.4" fill="#fff" stroke="#000" stroke-width="1"/>
<circle cx="84.3" cy="482.3" r="2.4" fill="#fff" stroke="#000" stroke-width="1"/>
<circle cx="88.9" cy="482.5" r="2.4" fill="#fff" stroke="#000" stroke-width="1"/>
<circle cx="86.3" cy="498.6" r="2.4" fill="#fff" stroke="#000" stroke-width="1"/>
<circle cx="101.5" cy="495.7" r="2.45" fill="#000" stroke="#000" stroke-width="0.5"/>
<circle cx="99.2" cy="501.8" r="2.45" fill="#000" stroke="#000" stroke-width="0.5"/>
<circle cx="98.6" cy="507.8" r="2.45" fill="#000" stroke="#000" stroke-width="0.5"/>
<circle cx="103" cy="507.2" r="2.45" fill="#000" stroke="#000" stroke-width="0.5"/>
<circle cx="102.7" cy="514.6" r="2.45" fill="#000" stroke="#000" stroke-width="0.5"/>
<circle cx="123.6" cy="494.7" r="2.4" fill="#fff" stroke="#000" stroke-width="1"/>
<circle cx="126.3" cy="499.8" r="2.4" fill="#fff" stroke="#000" stroke-width="1"/>
<circle cx="122.8" cy="511.3" r="2.4" fill="#fff" stroke="#000" stroke-width="1"/>
<circle cx="124.7" cy="512.5" r="2.4" fill="#fff" stroke="#000" stroke-width="1"/>
<circle cx="126.7" cy="514.5" r="2.4" fill="#fff" stroke="#000" stroke-width="1"/>
<circle cx="125.9" cy="513.3" r="2.4" fill="#fff" stroke="#000" stroke-width="1"/>
<circle cx="137.8" cy="506.6" r="2.45" fill="#000" stroke="#000" stroke-width="0.5"/>
<circle cx="141.8" cy="509.4" r="2.45" fill="#000" stroke="#000" stroke-width="0.5"/>
<circle cx="139.4" cy="516.5" r="2.45" fill="#000" stroke="#000" stroke-width="0.5"/>
<circle cx="137.8" cy="521.3" r="2.45" fill="#000" stroke="#000" stroke-width="0.5"/>
<circle cx="141.8" cy="523.3" r="2.45" fill="#000" stroke="#000" stroke-width="0.5"/>
<circle cx="164" cy="464.4" r="2.4" fill="#fff" stroke="#000" stroke-width="1"/>
<circle cx="162.1" cy="479.1" r="2.4" fill="#fff" stroke="#000" stroke-width="1"/>
<circle cx="164.8" cy="482" r="2.4" fill="#fff" stroke="#000" stroke-width="1"/>
<circle cx="166.2" cy="484.3" r="2.4" fill="#fff" stroke="#000" stroke-width="1"/>
<circle cx="164" cy="491.5" r="2.4" fill="#fff" stroke="#000" stroke-width="1"/>
<circle cx="178.9" cy="495.2" r="2.45" fill="#000" stroke="#000" stroke-width="0.5"/>
<circle cx="176.8" cy="507.2" r="2.45" fill="#000" stroke="#000" stroke-width="0.5"/>
<circle cx="180.8" cy="507.8" r="2.45" fill="#000" stroke="#000" stroke-width="0.5"/>
<circle cx="176.8" cy="511.8" r="2.45" fill="#000" stroke="#000" stroke-width="0.5"/>
<circle cx="180.2" cy="515.8" r="2.45" fill="#000" stroke="#000" stroke-width="0.5"/>
<line x1="48" y1="498.9" x2="62.7" y2="498.9" stroke="#3a3a3a" stroke-width="1.25"/>
<text x="54.75" y="496.6" font-size="7.8" stroke="#222" stroke-width="0.13" text-anchor="middle" fill="#222">ns</text>
<line x1="49.6" y1="461" x2="84.6" y2="461" stroke="#3a3a3a" stroke-width="1.25"/>
<text x="65.2" y="460.1" font-size="7.8" stroke="#111" stroke-width="0.13" text-anchor="middle" fill="#111">*</text>
<text x="69" y="460.1" font-size="7.8" stroke="#111" stroke-width="0.13" text-anchor="middle" fill="#111">*</text>
<line x1="86.9" y1="460.8" x2="101.5" y2="460.8" stroke="#3a3a3a" stroke-width="1.25"/>
<text x="94.2" y="459.9" font-size="7.8" stroke="#111" stroke-width="0.13" text-anchor="middle" fill="#111">*</text>
<line x1="125.9" y1="490.2" x2="140.1" y2="490.2" stroke="#3a3a3a" stroke-width="1.25"/>
<text x="132.4" y="487.9" font-size="7.8" stroke="#222" stroke-width="0.13" text-anchor="middle" fill="#222">ns</text>
<line x1="127.3" y1="459.2" x2="161.1" y2="459.2" stroke="#3a3a3a" stroke-width="1.25"/>
<text x="142.3" y="458.3" font-size="7.8" stroke="#111" stroke-width="0.13" text-anchor="middle" fill="#111">*</text>
<text x="146.1" y="458.3" font-size="7.8" stroke="#111" stroke-width="0.13" text-anchor="middle" fill="#111">*</text>
<line x1="163.6" y1="459.2" x2="178" y2="459.2" stroke="#3a3a3a" stroke-width="1.25"/>
<text x="170.8" y="458.3" font-size="7.8" stroke="#111" stroke-width="0.13" text-anchor="middle" fill="#111">*</text>
<circle cx="45.4" cy="442.8" r="2.45" fill="#fff" stroke="#000" stroke-width="1"/>
<text x="51" y="445.4" font-size="8.2" stroke="#000" stroke-width="0.13">Ctrl</text>
<circle cx="76.1" cy="442.8" r="2.5" fill="#000" stroke="#000" stroke-width="0.5"/>
<text x="81.7" y="445.4" font-size="8.2" stroke="#000" stroke-width="0.13">sUA</text>
<text x="55.4" y="546.6" font-size="8.3" stroke="#000" stroke-width="0.13" text-anchor="middle">Ctrl</text>
<text x="96.6" y="547.6" font-size="8.3" stroke="#000" stroke-width="0.13" text-anchor="middle" textLength="42" lengthAdjust="spacingAndGlyphs">SARS-CoV2</text>
<text x="133.6" y="546.6" font-size="8.3" stroke="#000" stroke-width="0.13" text-anchor="middle">Ctrl</text>
<text x="174.3" y="547.6" font-size="8.3" stroke="#000" stroke-width="0.13" text-anchor="middle" textLength="42" lengthAdjust="spacingAndGlyphs">SARS-CoV2</text>
<line x1="41.4" y1="549.85" x2="111.5" y2="549.85" stroke="#505050" stroke-width="1.35"/>
<line x1="119.6" y1="549.85" x2="193.4" y2="549.85" stroke="#505050" stroke-width="1.35"/>
<text x="81" y="559.2" font-size="8.3" stroke="#000" stroke-width="0.13" text-anchor="middle" textLength="60" lengthAdjust="spacingAndGlyphs">10% supernatant</text>
<text x="158.8" y="559.2" font-size="8.3" stroke="#000" stroke-width="0.13" text-anchor="middle" textLength="60" lengthAdjust="spacingAndGlyphs">20% supernatant</text>
<text x="202.6" y="440.8" font-size="11.8" font-weight="bold">K</text>
<line x1="239" y1="451.7" x2="239" y2="537.6" stroke="#000" stroke-width="1.2"/>
<line x1="236" y1="537" x2="239" y2="537" stroke="#000" stroke-width="1"/>
<text x="233.3" y="539.9" font-size="8.3" stroke="#000" stroke-width="0.13" text-anchor="end" textLength="4.3" lengthAdjust="spacingAndGlyphs">0</text>
<line x1="236" y1="526.74" x2="239" y2="526.74" stroke="#000" stroke-width="1"/>
<text x="233.3" y="529.64" font-size="8.3" stroke="#000" stroke-width="0.13" text-anchor="end" textLength="17.2" lengthAdjust="spacingAndGlyphs">1000</text>
<line x1="236" y1="516.48" x2="239" y2="516.48" stroke="#000" stroke-width="1"/>
<text x="233.3" y="519.38" font-size="8.3" stroke="#000" stroke-width="0.13" text-anchor="end" textLength="17.2" lengthAdjust="spacingAndGlyphs">2000</text>
<line x1="236" y1="506.22" x2="239" y2="506.22" stroke="#000" stroke-width="1"/>
<text x="233.3" y="509.12" font-size="8.3" stroke="#000" stroke-width="0.13" text-anchor="end" textLength="17.2" lengthAdjust="spacingAndGlyphs">3000</text>
<line x1="236" y1="495.96" x2="239" y2="495.96" stroke="#000" stroke-width="1"/>
<text x="233.3" y="498.86" font-size="8.3" stroke="#000" stroke-width="0.13" text-anchor="end" textLength="17.2" lengthAdjust="spacingAndGlyphs">4000</text>
<line x1="236" y1="485.7" x2="239" y2="485.7" stroke="#000" stroke-width="1"/>
<text x="233.3" y="488.6" font-size="8.3" stroke="#000" stroke-width="0.13" text-anchor="end" textLength="17.2" lengthAdjust="spacingAndGlyphs">5000</text>
<line x1="236" y1="475.44" x2="239" y2="475.44" stroke="#000" stroke-width="1"/>
<text x="233.3" y="478.34" font-size="8.3" stroke="#000" stroke-width="0.13" text-anchor="end" textLength="17.2" lengthAdjust="spacingAndGlyphs">6000</text>
<line x1="236" y1="465.18" x2="239" y2="465.18" stroke="#000" stroke-width="1"/>
<text x="233.3" y="468.08" font-size="8.3" stroke="#000" stroke-width="0.13" text-anchor="end" textLength="17.2" lengthAdjust="spacingAndGlyphs">7000</text>
<line x1="236" y1="454.92" x2="239" y2="454.92" stroke="#000" stroke-width="1"/>
<text x="233.3" y="457.82" font-size="8.3" stroke="#000" stroke-width="0.13" text-anchor="end" textLength="17.2" lengthAdjust="spacingAndGlyphs">8000</text>
<line x1="238.4" y1="537" x2="327.4" y2="537" stroke="#000" stroke-width="1.2"/>
<text x="211.1" y="493.8" font-size="9.6" stroke="#000" stroke-width="0.13" text-anchor="middle" textLength="70" lengthAdjust="spacingAndGlyphs" transform="rotate(-90 211.1 493.8)">Migrated neutrophils</text>
<rect x="246" y="502.9" width="11.3" height="34.1" fill="#e27d8f"/>
<rect x="263.2" y="511.3" width="11.5" height="25.7" fill="#80a6c9"/>
<rect x="292.6" y="471" width="11.4" height="66" fill="#c5bfe2"/>
<rect x="310.3" y="505.2" width="11.5" height="31.8" fill="#a1a9b1"/>
<circle cx="248.6" cy="495.5" r="2.4" fill="#fff" stroke="#000" stroke-width="1"/>
<circle cx="251.3" cy="497.1" r="2.4" fill="#fff" stroke="#000" stroke-width="1"/>
<circle cx="254.5" cy="500.2" r="2.4" fill="#fff" stroke="#000" stroke-width="1"/>
<circle cx="248.6" cy="504.6" r="2.4" fill="#fff" stroke="#000" stroke-width="1"/>
<circle cx="254.5" cy="510.2" r="2.4" fill="#fff" stroke="#000" stroke-width="1"/>
<circle cx="269.2" cy="505.8" r="2.45" fill="#000" stroke="#000" stroke-width="0.5"/>
<circle cx="266" cy="510.2" r="2.45" fill="#000" stroke="#000" stroke-width="0.5"/>
<circle cx="268.4" cy="511.7" r="2.45" fill="#000" stroke="#000" stroke-width="0.5"/>
<circle cx="270.4" cy="514.1" r="2.45" fill="#000" stroke="#000" stroke-width="0.5"/>
<circle cx="272" cy="515.7" r="2.45" fill="#000" stroke="#000" stroke-width="0.5"/>
<circle cx="295.8" cy="464.7" r="2.4" fill="#fff" stroke="#000" stroke-width="1"/>
<circle cx="298.9" cy="467" r="2.4" fill="#fff" stroke="#000" stroke-width="1"/>
<circle cx="301.5" cy="469.3" r="2.4" fill="#fff" stroke="#000" stroke-width="1"/>
<circle cx="295.4" cy="471" r="2.4" fill="#fff" stroke="#000" stroke-width="1"/>
<circle cx="301.2" cy="477.9" r="2.4" fill="#fff" stroke="#000" stroke-width="1"/>
<circle cx="315.7" cy="494" r="2.45" fill="#000" stroke="#000" stroke-width="0.5"/>
<circle cx="313" cy="503.7" r="2.45" fill="#000" stroke="#000" stroke-width="0.5"/>
<circle cx="318.7" cy="507.5" r="2.45" fill="#000" stroke="#000" stroke-width="0.5"/>
<circle cx="315.5" cy="515.1" r="2.45" fill="#000" stroke="#000" stroke-width="0.5"/>
<line x1="252.1" y1="490.3" x2="267.6" y2="490.3" stroke="#3a3a3a" stroke-width="1.25"/>
<text x="259.25" y="488" font-size="7.8" stroke="#222" stroke-width="0.13" text-anchor="middle" fill="#222">ns</text>
<line x1="252" y1="458.9" x2="296.8" y2="458.9" stroke="#3a3a3a" stroke-width="1.25"/>
<text x="270.6" y="458.9" font-size="7.8" stroke="#111" stroke-width="0.13" text-anchor="middle" fill="#111">*</text>
<text x="274.4" y="458.9" font-size="7.8" stroke="#111" stroke-width="0.13" text-anchor="middle" fill="#111">*</text>
<text x="278.2" y="458.9" font-size="7.8" stroke="#111" stroke-width="0.13" text-anchor="middle" fill="#111">*</text>
<line x1="299.9" y1="458.9" x2="316.1" y2="458.9" stroke="#3a3a3a" stroke-width="1.25"/>
<text x="304.2" y="458.9" font-size="7.8" stroke="#111" stroke-width="0.13" text-anchor="middle" fill="#111">*</text>
<text x="308" y="458.9" font-size="7.8" stroke="#111" stroke-width="0.13" text-anchor="middle" fill="#111">*</text>
<text x="311.8" y="458.9" font-size="7.8" stroke="#111" stroke-width="0.13" text-anchor="middle" fill="#111">*</text>
<circle cx="253.4" cy="442.8" r="2.45" fill="#fff" stroke="#000" stroke-width="1"/>
<text x="259" y="445.4" font-size="8.2" stroke="#000" stroke-width="0.13">Ctrl</text>
<circle cx="290.2" cy="442.8" r="2.5" fill="#000" stroke="#000" stroke-width="0.5"/>
<text x="295.8" y="445.4" font-size="8.2" stroke="#000" stroke-width="0.13">sUA</text>
<text x="260.6" y="546.7" font-size="8.3" stroke="#000" stroke-width="0.13" text-anchor="middle">Ctrl</text>
<text x="306.9" y="547.4" font-size="8.3" stroke="#000" stroke-width="0.13" text-anchor="middle" textLength="42" lengthAdjust="spacingAndGlyphs">SARS-CoV2</text>
<line x1="243.6" y1="549.7" x2="327" y2="549.7" stroke="#505050" stroke-width="1.35"/>
<text x="287.1" y="559" font-size="8.3" stroke="#000" stroke-width="0.13" text-anchor="middle" textLength="59.6" lengthAdjust="spacingAndGlyphs">20% supernatant</text>
<text x="359.6" y="440.8" font-size="11.8" font-weight="bold">L</text>
<line x1="387.5" y1="451.3" x2="387.5" y2="537.7" stroke="#000" stroke-width="1.2"/>
<line x1="384.5" y1="537.1" x2="387.5" y2="537.1" stroke="#000" stroke-width="1"/>
<text x="381.8" y="540" font-size="8.3" stroke="#000" stroke-width="0.13" text-anchor="end" textLength="4.3" lengthAdjust="spacingAndGlyphs">0</text>
<line x1="384.5" y1="526.8" x2="387.5" y2="526.8" stroke="#000" stroke-width="1"/>
<text x="381.8" y="529.71" font-size="8.3" stroke="#000" stroke-width="0.13" text-anchor="end" textLength="4.3" lengthAdjust="spacingAndGlyphs">2</text>
<line x1="384.5" y1="516.5" x2="387.5" y2="516.5" stroke="#000" stroke-width="1"/>
<text x="381.8" y="519.4" font-size="8.3" stroke="#000" stroke-width="0.13" text-anchor="end" textLength="4.3" lengthAdjust="spacingAndGlyphs">4</text>
<line x1="384.5" y1="506.2" x2="387.5" y2="506.2" stroke="#000" stroke-width="1"/>
<text x="381.8" y="509.11" font-size="8.3" stroke="#000" stroke-width="0.13" text-anchor="end" textLength="4.3" lengthAdjust="spacingAndGlyphs">6</text>
<line x1="384.5" y1="495.9" x2="387.5" y2="495.9" stroke="#000" stroke-width="1"/>
<text x="381.8" y="498.81" font-size="8.3" stroke="#000" stroke-width="0.13" text-anchor="end" textLength="4.3" lengthAdjust="spacingAndGlyphs">8</text>
<line x1="384.5" y1="485.6" x2="387.5" y2="485.6" stroke="#000" stroke-width="1"/>
<text x="381.8" y="488.5" font-size="8.3" stroke="#000" stroke-width="0.13" text-anchor="end" textLength="8.6" lengthAdjust="spacingAndGlyphs">10</text>
<line x1="384.5" y1="475.3" x2="387.5" y2="475.3" stroke="#000" stroke-width="1"/>
<text x="381.8" y="478.2" font-size="8.3" stroke="#000" stroke-width="0.13" text-anchor="end" textLength="8.6" lengthAdjust="spacingAndGlyphs">12</text>
<line x1="384.5" y1="465" x2="387.5" y2="465" stroke="#000" stroke-width="1"/>
<text x="381.8" y="467.9" font-size="8.3" stroke="#000" stroke-width="0.13" text-anchor="end" textLength="8.6" lengthAdjust="spacingAndGlyphs">14</text>
<line x1="384.5" y1="454.7" x2="387.5" y2="454.7" stroke="#000" stroke-width="1"/>
<text x="381.8" y="457.61" font-size="8.3" stroke="#000" stroke-width="0.13" text-anchor="end" textLength="8.6" lengthAdjust="spacingAndGlyphs">16</text>
<line x1="386.9" y1="537.1" x2="507" y2="537.1" stroke="#000" stroke-width="1.2"/>
<text x="367.8" y="496.6" font-size="9.6" stroke="#000" stroke-width="0.13" text-anchor="middle" textLength="85.5" lengthAdjust="spacingAndGlyphs" transform="rotate(-90 367.8 496.6)">% of phagocytosed beads</text>
<rect x="393.5" y="476.1" width="11.7" height="61" fill="#e27d8f"/>
<rect x="411.2" y="494.2" width="12" height="42.9" fill="#80a6c9"/>
<rect x="441.1" y="476.1" width="11.8" height="61" fill="#a2dba6"/>
<rect x="459.1" y="488.5" width="11.4" height="48.6" fill="#b59bc9"/>
<circle cx="399.9" cy="470.6" r="2.4" fill="#fff" stroke="#000" stroke-width="1"/>
<circle cx="396.4" cy="473.4" r="2.4" fill="#fff" stroke="#000" stroke-width="1"/>
<circle cx="399.2" cy="478.3" r="2.4" fill="#fff" stroke="#000" stroke-width="1"/>
<circle cx="402.4" cy="481.2" r="2.4" fill="#fff" stroke="#000" stroke-width="1"/>
<circle cx="398.5" cy="474.1" r="2.4" fill="#fff" stroke="#000" stroke-width="1"/>
<circle cx="414.3" cy="490.3" r="2.45" fill="#000" stroke="#000" stroke-width="0.5"/>
<circle cx="416.5" cy="493.2" r="2.45" fill="#000" stroke="#000" stroke-width="0.5"/>
<circle cx="418.2" cy="494.6" r="2.45" fill="#000" stroke="#000" stroke-width="0.5"/>
<circle cx="420" cy="496" r="2.45" fill="#000" stroke="#000" stroke-width="0.5"/>
<circle cx="417.5" cy="495.6" r="2.45" fill="#000" stroke="#000" stroke-width="0.5"/>
<circle cx="443.5" cy="474.7" r="2.4" fill="#fff" stroke="#000" stroke-width="1"/>
<circle cx="445.6" cy="474" r="2.4" fill="#fff" stroke="#000" stroke-width="1"/>
<circle cx="447.7" cy="475" r="2.4" fill="#fff" stroke="#000" stroke-width="1"/>
<circle cx="449.1" cy="476.4" r="2.4" fill="#fff" stroke="#000" stroke-width="1"/>
<circle cx="450.1" cy="479.5" r="2.4" fill="#fff" stroke="#000" stroke-width="1"/>
<circle cx="464.3" cy="483.7" r="2.45" fill="#000" stroke="#000" stroke-width="0.5"/>
<circle cx="461.9" cy="486.5" r="2.45" fill="#000" stroke="#000" stroke-width="0.5"/>
<circle cx="463.6" cy="487.9" r="2.45" fill="#000" stroke="#000" stroke-width="0.5"/>
<circle cx="465.7" cy="488.9" r="2.45" fill="#000" stroke="#000" stroke-width="0.5"/>
<circle cx="467.8" cy="492.4" r="2.45" fill="#000" stroke="#000" stroke-width="0.5"/>
<circle cx="466" cy="491.3" r="2.45" fill="#000" stroke="#000" stroke-width="0.5"/>
<circle cx="490.6" cy="537" r="2.4" fill="#fff" stroke="#000" stroke-width="1"/>
<circle cx="492.6" cy="537" r="2.4" fill="#fff" stroke="#000" stroke-width="1"/>
<circle cx="494.6" cy="537" r="2.4" fill="#fff" stroke="#000" stroke-width="1"/>
<circle cx="496.6" cy="537" r="2.4" fill="#fff" stroke="#000" stroke-width="1"/>
<circle cx="498.6" cy="537" r="2.4" fill="#fff" stroke="#000" stroke-width="1"/>
<line x1="398.1" y1="466.4" x2="417.2" y2="466.4" stroke="#3a3a3a" stroke-width="1.25"/>
<text x="405.75" y="465.5" font-size="7.8" stroke="#111" stroke-width="0.13" text-anchor="middle" fill="#111">*</text>
<text x="409.55" y="465.5" font-size="7.8" stroke="#111" stroke-width="0.13" text-anchor="middle" fill="#111">*</text>
<line x1="398.3" y1="456.1" x2="447.8" y2="456.1" stroke="#3a3a3a" stroke-width="1.25"/>
<text x="422.45" y="453.8" font-size="7.8" stroke="#222" stroke-width="0.13" text-anchor="middle" fill="#222">ns</text>
<line x1="447" y1="469.5" x2="465.7" y2="469.5" stroke="#3a3a3a" stroke-width="1.25"/>
<text x="454.45" y="468.6" font-size="7.8" stroke="#111" stroke-width="0.13" text-anchor="middle" fill="#111">*</text>
<text x="458.25" y="468.6" font-size="7.8" stroke="#111" stroke-width="0.13" text-anchor="middle" fill="#111">*</text>
<circle cx="489.6" cy="458.5" r="2.45" fill="#fff" stroke="#000" stroke-width="1"/>
<text x="495.2" y="461.1" font-size="8.2" stroke="#000" stroke-width="0.13">Ctrl</text>
<circle cx="489.6" cy="468.2" r="2.5" fill="#000" stroke="#000" stroke-width="0.5"/>
<text x="495.2" y="470.8" font-size="8.2" stroke="#000" stroke-width="0.13">sUA</text>
<text x="408.6" y="547.2" font-size="8.3" stroke="#000" stroke-width="0.13" text-anchor="middle" textLength="29.1" lengthAdjust="spacingAndGlyphs">Medium</text>
<text x="455.8" y="547.2" font-size="8.3" stroke="#000" stroke-width="0.13" text-anchor="middle" textLength="25" lengthAdjust="spacingAndGlyphs">CXCL8</text>
<text x="495.9" y="547.2" font-size="8.3" stroke="#000" stroke-width="0.13" text-anchor="middle">No beads</text>
<rect x="0" y="0" width="520" height="1.2" fill="#000"/>
<rect x="0" y="565.7" width="520" height="1.3" fill="#000"/>
<rect x="0" y="0" width="1.15" height="567" fill="#000"/>
<rect x="518.8" y="0" width="1.2" height="567" fill="#000"/>
<path d="M116.4,208.4V239.4M113.4,208.4H119.4M113.4,239.4H119.4" stroke="#000" stroke-width="0.9" fill="none"/>
<path d="M139.2,231.8V240.8M136.7,231.8H141.7M136.7,240.8H141.7" stroke="#000" stroke-width="0.9" fill="none"/>
<path d="M223.8,204.3V242M221.05,204.3H226.55M221.05,242H226.55" stroke="#000" stroke-width="0.9" fill="none"/>
<path d="M246.4,233V244.5M243.9,233H248.9M243.9,244.5H248.9" stroke="#000" stroke-width="0.9" fill="none"/>
<path d="M283.4,206.4V244.1M280.65,206.4H286.15M280.65,244.1H286.15" stroke="#000" stroke-width="0.9" fill="none"/>
<path d="M306,233.4V245M303.5,233.4H308.5M303.5,245H308.5" stroke="#000" stroke-width="0.9" fill="none"/>
<path d="M412.4,236.2V251.3M409.9,236.2H414.9M409.9,251.3H414.9" stroke="#000" stroke-width="0.9" fill="none"/>
<path d="M434.4,247.5V253M431.9,247.5H436.9M431.9,253H436.9" stroke="#000" stroke-width="0.9" fill="none"/>
<path d="M471.6,203.1V247.3M468.85,203.1H474.35M468.85,247.3H474.35" stroke="#000" stroke-width="0.9" fill="none"/>
<path d="M494,233V246.3M491.5,233H496.5M491.5,246.3H496.5" stroke="#000" stroke-width="0.9" fill="none"/>
<path d="M59.6,371V391.5M57.1,371H62.1M57.1,391.5H62.1" stroke="#000" stroke-width="0.9" fill="none"/>
<path d="M78.5,381.5V393M76,381.5H81M76,393H81" stroke="#000" stroke-width="0.9" fill="none"/>
<path d="M106.7,353.1V373.2M104.2,353.1H109.2M104.2,373.2H109.2" stroke="#000" stroke-width="0.9" fill="none"/>
<path d="M125.8,363.7V390M123.3,363.7H128.3M123.3,390H128.3" stroke="#000" stroke-width="0.9" fill="none"/>
<path d="M154,345.5V372.3M151.5,345.5H156.5M151.5,372.3H156.5" stroke="#000" stroke-width="0.9" fill="none"/>
<path d="M172.3,361.6V386.8M169.8,361.6H174.8M169.8,386.8H174.8" stroke="#000" stroke-width="0.9" fill="none"/>
<path d="M254,387V394M251.5,387H256.5M251.5,394H256.5" stroke="#000" stroke-width="0.9" fill="none"/>
<path d="M272,390V395M269.5,390H274.5M269.5,395H274.5" stroke="#000" stroke-width="0.9" fill="none"/>
<path d="M300.2,338.1V360.9M297.7,338.1H302.7M297.7,360.9H302.7" stroke="#000" stroke-width="0.9" fill="none"/>
<path d="M319.4,365V383M316.9,365H321.9M316.9,383H321.9" stroke="#000" stroke-width="0.9" fill="none"/>
<path d="M376.8,349V369M374.55,349H379.05M374.55,369H379.05" stroke="#000" stroke-width="0.9" fill="none"/>
<path d="M391.5,354V367M389.25,354H393.75M389.25,367H393.75" stroke="#000" stroke-width="0.9" fill="none"/>
<path d="M412.3,328.4V352M410.05,328.4H414.55M410.05,352H414.55" stroke="#000" stroke-width="0.9" fill="none"/>
<path d="M427.4,343V351M425.15,343H429.65M425.15,351H429.65" stroke="#000" stroke-width="0.9" fill="none"/>
<path d="M448.7,343.7V361.1M446.45,343.7H450.95M446.45,361.1H450.95" stroke="#000" stroke-width="0.9" fill="none"/>
<path d="M462.5,351V365M460.25,351H464.75M460.25,365H464.75" stroke="#000" stroke-width="0.9" fill="none"/>
<path d="M484,324.6V345M481.75,324.6H486.25M481.75,345H486.25" stroke="#000" stroke-width="0.9" fill="none"/>
<path d="M498.5,341.6V356M496.25,341.6H500.75M496.25,356H500.75" stroke="#000" stroke-width="0.9" fill="none"/>
<path d="M47.5,505V521M45.25,505H49.75M45.25,521H49.75" stroke="#000" stroke-width="0.9" fill="none"/>
<path d="M62,510V523M59.75,510H64.25M59.75,523H64.25" stroke="#000" stroke-width="0.9" fill="none"/>
<path d="M86.3,467V492.8M84.05,467H88.55M84.05,492.8H88.55" stroke="#000" stroke-width="0.9" fill="none"/>
<path d="M101,497V513M98.75,497H103.25M98.75,513H103.25" stroke="#000" stroke-width="0.9" fill="none"/>
<path d="M125.5,497V515M123.25,497H127.75M123.25,515H127.75" stroke="#000" stroke-width="0.9" fill="none"/>
<path d="M139.6,508V522M137.35,508H141.85M137.35,522H141.85" stroke="#000" stroke-width="0.9" fill="none"/>
<path d="M164.2,470.1V490M161.95,470.1H166.45M161.95,490H166.45" stroke="#000" stroke-width="0.9" fill="none"/>
<path d="M178.9,499.8V513.5M176.65,499.8H181.15M176.65,513.5H181.15" stroke="#000" stroke-width="0.9" fill="none"/>
<path d="M251.3,496V509M249.05,496H253.55M249.05,509H253.55" stroke="#000" stroke-width="0.9" fill="none"/>
<path d="M269,507V515M266.75,507H271.25M266.75,515H271.25" stroke="#000" stroke-width="0.9" fill="none"/>
<path d="M298,466V476M295.75,466H300.25M295.75,476H300.25" stroke="#000" stroke-width="0.9" fill="none"/>
<path d="M315.7,494V515M313.45,494H317.95M313.45,515H317.95" stroke="#000" stroke-width="0.9" fill="none"/>
<path d="M399.3,471.5V480.5M397.05,471.5H401.55M397.05,480.5H401.55" stroke="#000" stroke-width="0.9" fill="none"/>
<path d="M417.2,491.5V496.5M414.95,491.5H419.45M414.95,496.5H419.45" stroke="#000" stroke-width="0.9" fill="none"/>
<path d="M447,474.5V478M444.75,474.5H449.25M444.75,478H449.25" stroke="#000" stroke-width="0.9" fill="none"/>
<path d="M464.8,486V491M462.55,486H467.05M462.55,491H467.05" stroke="#000" stroke-width="0.9" fill="none"/>
</svg>
</body></html>
